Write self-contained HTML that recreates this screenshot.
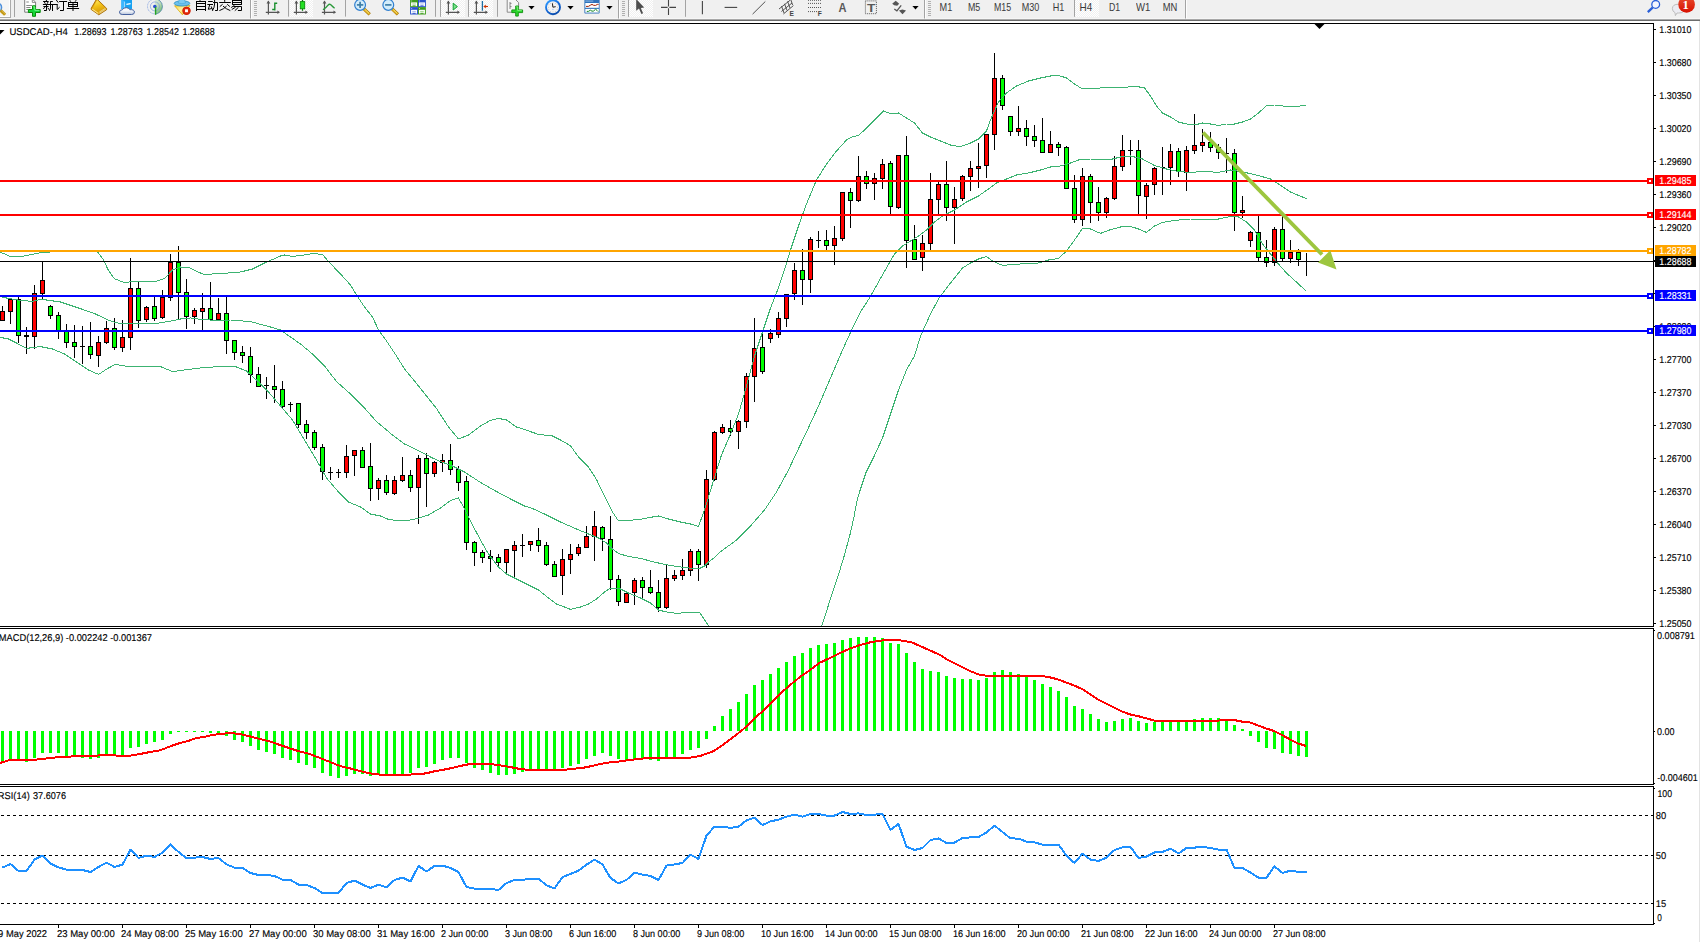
<!DOCTYPE html>
<html><head><meta charset="utf-8"><title>USDCAD H4</title>
<style>html,body{margin:0;padding:0;background:#fff;overflow:hidden}svg{display:block}</style></head>
<body>
<svg width="1700" height="942" viewBox="0 0 1700 942" font-family="Liberation Sans, sans-serif" shape-rendering="crispEdges">
<defs>
<clipPath id="cm"><rect x="0" y="24" width="1653" height="602"/></clipPath>
<clipPath id="cd"><rect x="0" y="629" width="1653" height="155"/></clipPath>
<clipPath id="cr"><rect x="0" y="787" width="1653" height="137"/></clipPath>
<clipPath id="ct"><rect x="0" y="0" width="1700" height="19"/></clipPath>
<pattern id="hatch" width="2" height="2" patternUnits="userSpaceOnUse"><rect width="2" height="2" fill="#f0f0f0"/><rect width="1" height="1" fill="#fff"/><rect x="1" y="1" width="1" height="1" fill="#fff"/></pattern>
<linearGradient id="gold" x1="0" y1="0" x2="1" y2="1"><stop offset="0" stop-color="#ffe070"/><stop offset="0.5" stop-color="#e8b020"/><stop offset="1" stop-color="#b07000"/></linearGradient>
<linearGradient id="redg" x1="0" y1="0" x2="0" y2="1"><stop offset="0" stop-color="#e85030"/><stop offset="1" stop-color="#d81000"/></linearGradient>
<linearGradient id="gold2" x1="0.3" y1="0" x2="0.6" y2="1"><stop offset="0" stop-color="#ffe860"/><stop offset="0.45" stop-color="#f2c21a"/><stop offset="1" stop-color="#d89a08"/></linearGradient>
<linearGradient id="cloudg" x1="0" y1="0" x2="0" y2="1"><stop offset="0" stop-color="#ffffff"/><stop offset="0.5" stop-color="#f2f5fa"/><stop offset="1" stop-color="#b8c4da"/></linearGradient>
<linearGradient id="siggreen" x1="0" y1="0" x2="0.6" y2="1"><stop offset="0" stop-color="#e4efe0"/><stop offset="0.5" stop-color="#bfdcbc"/><stop offset="1" stop-color="#6fbb6f"/></linearGradient>
<linearGradient id="funnel" x1="0" y1="0" x2="1" y2="0.6"><stop offset="0" stop-color="#f6d648"/><stop offset="0.5" stop-color="#fff0a0"/><stop offset="1" stop-color="#f0c020"/></linearGradient>
<linearGradient id="clockg" x1="0.2" y1="0" x2="0.8" y2="1"><stop offset="0" stop-color="#2f9aff"/><stop offset="0.5" stop-color="#1266d6"/><stop offset="1" stop-color="#0a49a6"/></linearGradient>
</defs>
<rect width="1700" height="942" fill="#fff"/>
<!--TOOLBAR-->
<rect x="0" y="0" width="1700" height="18" fill="#f0f0f0"/>
<rect x="0" y="18" width="1700" height="1" fill="#f6f6f6"/>
<rect x="0" y="19" width="1700" height="1" fill="#a8a8a8"/>
<rect x="0" y="20" width="1700" height="1" fill="#6c6c6c"/>
<g clip-path="url(#ct)" shape-rendering="auto">
<rect x="0" y="0" width="10" height="17" fill="#f5f5f5"/>
<rect x="10" y="0" width="1" height="18" fill="#ababab"/><rect x="0" y="17" width="11" height="1" fill="#ababab"/>
<rect x="9" y="0" width="1" height="17" fill="#fdfdfd"/><rect x="0" y="16" width="10" height="1" fill="#fdfdfd"/>
<ellipse cx="-2.6" cy="7.4" rx="4.2" ry="4.3" fill="#cfe2f2" stroke="#4d8fdc" stroke-width="1.4"/>
<line x1="0.6" y1="10.4" x2="5.1" y2="14.8" stroke="#c49a16" stroke-width="3"/>
<line x1="1.6" y1="10.6" x2="5.6" y2="14.4" stroke="#dcb84a" stroke-width="0.8"/>
<rect x="14" y="0" width="1" height="17" fill="#a3a3a3"/>
<path d="M24.7 -1H32.3L35.6 2.2V12.2H24.7Z" fill="#fff" stroke="#7d7d7d" stroke-width="1"/>
<path d="M32.3 -1V2.4H35.6" fill="none" stroke="#7d7d7d" stroke-width="0.9"/>
<path d="M26.3 2H28.8M26.3 5.5H32M26.3 7.5H30.6M26.3 9.5H28" stroke="#7a7a7a" stroke-width="0.9"/>
<path d="M32.5 5.8H35.5V9.5H40.2V12.5H35.5V16.3H32.5V12.5H28.4V9.5H32.5Z" fill="#16d63a" stroke="#078a07" stroke-width="1"/>
<path d="M33.2 6.8H34.8V10.3H39.4" stroke="#7dff96" stroke-width="0.9" fill="none"/>
<g stroke="#000" stroke-width="1" fill="none" stroke-linecap="butt">
<path d="M43.1 1.5H48.7M46.4 -1V1M44.4 2L45.3 3.8M48 2L47.1 3.8M42.9 4.5H57.7M43.4 6.5H48.6M46.5 4.5V10.5H44M45.2 7.2L43.2 8.7M47.8 7.8L49.4 9.9"/>
<path d="M50.3 1.5H52.8M50.5 1.5V8Q50.4 9.8 49.3 10.8M52.5 4.5V11"/>
<path d="M56.2 -0.2L58.2 2.6M57.2 4.5V9.5L59.6 7.2M59.1 1.5H67.1M63.5 1.5V10.5H60"/>
<path d="M69.2 -0.2L71.2 1.8M76.7 -0.2L74.7 1.8M68.5 2V7M77.5 2V7M68.5 2.5H77.5M68.5 4.5H77.5M68.5 6.5H77.5M73 2.5V11M66.9 8.5H79.1"/>
</g>
<path d="M96.6 -1L98.9 0.9L106.6 8.4V9.7L98.8 14.8L91 9.3L91.3 8.1Z" fill="#e0a412" stroke="#a66a00" stroke-width="0.9" stroke-linejoin="round"/>
<path d="M97.2 0L105 7.7L97.7 12.3L92.6 8.2Z" fill="url(#gold2)"/>
<path d="M92 8.9L98.3 13.4" stroke="#ffe98a" stroke-width="1.1" fill="none"/>
<path d="M99.6 13.2L105.8 9.2M99.2 12.2L105.4 8.3" stroke="#efe3b0" stroke-width="0.7" fill="none"/>
<path d="M121.4 -1H132V9H121.4Z" fill="#17a2f2"/>
<path d="M121.4 -1L124.6 1.6V9H121.4Z" fill="#3cb6ff"/>
<path d="M124.6 1.6V9" stroke="#d8f0ff" stroke-width="0.7"/>
<path d="M126.4 4.4L130.6 3.6" stroke="#fff" stroke-width="1.3"/>
<path d="M122.2 14.5Q119.4 14.5 119.5 12Q119.7 9.9 122.3 9.8Q123.6 7.4 126.6 7.7Q128.9 7.9 129.8 9.7Q134.4 9.3 134.4 12.1Q134.4 14.5 131.6 14.5Z" fill="url(#cloudg)" stroke="#45619f" stroke-width="1"/>
<path d="M154.9 -1.2A7.6 7.6 0 0 1 154.9 14Z" fill="url(#siggreen)"/>
<circle cx="154.9" cy="6.4" r="7.4" fill="none" stroke="#6f93dc" stroke-width="0.9" stroke-opacity="0.65" stroke-dasharray="2.2 0.8"/>
<path d="M154.9 14A7.5 7.5 0 0 0 154.9 -1.1" fill="none" stroke="#3f7f8f" stroke-width="0.9" stroke-opacity="0.55"/>
<circle cx="154.9" cy="6.4" r="4.5" fill="none" stroke="#6f93dc" stroke-width="0.9" stroke-opacity="0.7"/>
<circle cx="154.8" cy="6.5" r="1.8" fill="#2a52d0"/>
<path d="M155.6 7.1V14.8" stroke="#22a322" stroke-width="1.4"/>
<path d="M174.6 5.8L182.4 14.8L190 5.6Z" fill="url(#funnel)" stroke="#d9a900" stroke-width="0.8" stroke-linejoin="round"/>
<ellipse cx="182" cy="3.4" rx="7.8" ry="2.6" fill="#6cc0ee" stroke="#2b8fc2" stroke-width="0.8"/>
<path d="M178.2 3Q179.6 -3 182 -3Q184.2 -3 185.6 3Q182 4.4 178.2 3Z" fill="#7ccaf2" stroke="#3c9ed0" stroke-width="0.5"/>
<circle cx="186.5" cy="10.8" r="4.15" fill="#e32a0c"/>
<circle cx="186.5" cy="10.8" r="3.7" fill="none" stroke="#c01c00" stroke-width="0.8" stroke-opacity="0.6"/>
<rect x="185.05" y="9.3" width="2.9" height="2.9" fill="#fff"/>
<g stroke="#000" stroke-width="1" fill="none">
<path d="M200.8 -1L199.8 0.9M196.5 1V11M205.5 1V11M196.5 1.5H205.5M196.5 3.5H205.5M196.5 6.5H205.5M196.5 9.5H205.5"/>
<path d="M208.1 1.5H212.8M207.3 4.5H213M209.7 4.8L208.3 9.3L211.8 8.5M211.2 6.4L212.8 10.4M213.1 2.5H217.5V10.5H215.1M214.6 -1V4Q214.4 8 212.3 10.8"/>
<path d="M224.7 -1V1.8M219.2 2.5H230.8M222.6 4.3L219.8 6.6M227.2 4.3L229.9 6.6M226.6 6.1Q224 9 219.4 10.6M223 6.1Q226 9 230.3 10.6"/>
<path d="M232.5 0V4.9M241.5 0V4.9M232.5 0.5H241.5M232.5 2.5H241.5M232.5 4.5H241.5M234.5 5.2L231.2 7.6M233.3 6.5H241.5V10.5H237.9M235.6 7.2L231.8 9.5M238.5 7.2L234.8 10.7"/>
</g>
<rect x="250" y="0" width="1" height="18.5" fill="#a3a3a3"/>
<rect x="251" y="0" width="1" height="18.5" fill="#fdfdfd"/>
<rect x="254" y="1" width="3" height="1" fill="#b0b0b0"/>
<rect x="254" y="3" width="3" height="1" fill="#b0b0b0"/>
<rect x="254" y="5" width="3" height="1" fill="#b0b0b0"/>
<rect x="254" y="7" width="3" height="1" fill="#b0b0b0"/>
<rect x="254" y="9" width="3" height="1" fill="#b0b0b0"/>
<rect x="254" y="11" width="3" height="1" fill="#b0b0b0"/>
<rect x="254" y="13" width="3" height="1" fill="#b0b0b0"/>
<rect x="254" y="15" width="3" height="1" fill="#b0b0b0"/>
<g stroke="#555555" stroke-width="1.2" fill="none"><path d="M268.4 1.2V14.6M265.79999999999995 12.3H278.9"/></g>
<polygon points="268.4,0.6 266.5,3.4 270.29999999999995,3.4" fill="#555555"/>
<polygon points="280.0,12.3 277.4,10.5 277.4,14.1" fill="#555555"/>
<path d="M274.8 2.4V10.4M274.8 3.2H277.2M272.2 9.5H274.8" stroke="#1a8f2f" stroke-width="1.4" fill="none"/>
<rect x="288" y="0" width="1" height="16.6" fill="#a3a3a3"/>
<rect x="290" y="0" width="23" height="17" fill="url(#hatch)"/>
<g stroke="#555555" stroke-width="1.2" fill="none"><path d="M296.4 1.2V14.6M293.79999999999995 12.3H306.9"/></g>
<polygon points="296.4,0.6 294.5,3.4 298.29999999999995,3.4" fill="#555555"/>
<polygon points="308.0,12.3 305.4,10.5 305.4,14.1" fill="#555555"/>
<path d="M302.5 -1V10.8" stroke="#0c7a0c" stroke-width="1.2"/>
<rect x="300.3" y="1.6" width="4.4" height="7.2" fill="#22e022" stroke="#0c8a0c" stroke-width="0.9"/>
<g stroke="#555555" stroke-width="1.2" fill="none"><path d="M324.5 1.2V14.6M321.9 12.3H335.0"/></g>
<polygon points="324.5,0.6 322.6,3.4 326.4,3.4" fill="#555555"/>
<polygon points="336.1,12.3 333.5,10.5 333.5,14.1" fill="#555555"/>
<path d="M323 9.8Q326.5 7.5 328 5.2Q329.4 3.6 330.8 4.8Q332.8 6.8 334.6 8.2" stroke="#2a9a3a" stroke-width="1.3" fill="none"/>
<rect x="345" y="0" width="1" height="16.6" fill="#a3a3a3"/>
<line x1="363.90000000000003" y1="8.9" x2="369.70000000000005" y2="14.4" stroke="#a87400" stroke-width="3.2"/>
<line x1="364.20000000000005" y1="9.2" x2="369.40000000000003" y2="14.1" stroke="#e2b422" stroke-width="2"/>
<line x1="365.1" y1="9.6" x2="369.1" y2="13.4" stroke="#fbe88a" stroke-width="0.8"/>
<circle cx="360.1" cy="4.9" r="5.4" fill="#d3ecfa" stroke="#2f7fd0" stroke-width="1.2"/>
<path d="M356.90000000000003 4.9H363.3" stroke="#3f7fa8" stroke-width="1.7"/>
<path d="M360.1 1.7V8.1" stroke="#3f7fa8" stroke-width="1.7"/>
<line x1="392.1" y1="8.9" x2="397.90000000000003" y2="14.4" stroke="#a87400" stroke-width="3.2"/>
<line x1="392.40000000000003" y1="9.2" x2="397.6" y2="14.1" stroke="#e2b422" stroke-width="2"/>
<line x1="393.3" y1="9.6" x2="397.3" y2="13.4" stroke="#fbe88a" stroke-width="0.8"/>
<circle cx="388.3" cy="4.9" r="5.4" fill="#d3ecfa" stroke="#2f7fd0" stroke-width="1.2"/>
<path d="M385.1 4.9H391.5" stroke="#3f7fa8" stroke-width="1.7"/>
<rect x="410.1" y="-0.3" width="7.9" height="7.4" fill="#3f9d1c"/>
<rect x="411.05" y="2.4000000000000004" width="6" height="3.8" fill="#fff"/>
<rect x="412.25" y="3.5" width="3.6" height="1" fill="#9fd88a"/>
<rect x="412.45000000000005" y="5.4" width="3.2" height="1" fill="#3f9d1c"/>
<rect x="411.3" y="0.6000000000000001" width="0.8" height="0.8" fill="#e8f0ff"/>
<rect x="418" y="-0.3" width="7.9" height="7.4" fill="#2a52cc"/>
<rect x="418.95" y="2.4000000000000004" width="6" height="3.8" fill="#fff"/>
<rect x="420.15" y="3.5" width="3.6" height="1" fill="#a9b9ee"/>
<rect x="420.35" y="5.4" width="3.2" height="1" fill="#2a52cc"/>
<rect x="419.2" y="0.6000000000000001" width="0.8" height="0.8" fill="#e8f0ff"/>
<rect x="410.1" y="7.1" width="7.9" height="7.4" fill="#2a52cc"/>
<rect x="411.05" y="9.8" width="6" height="3.8" fill="#fff"/>
<rect x="412.25" y="10.899999999999999" width="3.6" height="1" fill="#a9b9ee"/>
<rect x="412.45000000000005" y="12.8" width="3.2" height="1" fill="#2a52cc"/>
<rect x="411.3" y="8.0" width="0.8" height="0.8" fill="#e8f0ff"/>
<rect x="418" y="7.1" width="7.9" height="7.4" fill="#3f9d1c"/>
<rect x="418.95" y="9.8" width="6" height="3.8" fill="#fff"/>
<rect x="420.15" y="10.899999999999999" width="3.6" height="1" fill="#9fd88a"/>
<rect x="420.35" y="12.8" width="3.2" height="1" fill="#3f9d1c"/>
<rect x="419.2" y="8.0" width="0.8" height="0.8" fill="#e8f0ff"/>
<rect x="435" y="0" width="1" height="16.8" fill="#a3a3a3"/>
<rect x="440" y="0" width="1" height="16.8" fill="#a3a3a3"/>
<rect x="441" y="0" width="24" height="17" fill="url(#hatch)"/>
<g stroke="#555555" stroke-width="1.2" fill="none"><path d="M448.4 1.2V14.6M445.79999999999995 12.3H458.9"/></g>
<polygon points="448.4,0.6 446.5,3.4 450.29999999999995,3.4" fill="#555555"/>
<polygon points="460.0,12.3 457.4,10.5 457.4,14.1" fill="#555555"/>
<polygon points="453.2,3.2 453.2,10 457.4,6.6" fill="#7be08a" stroke="#12a432" stroke-width="1"/>
<rect x="468" y="0" width="1" height="16.8" fill="#a3a3a3"/>
<rect x="469" y="0" width="24" height="17" fill="url(#hatch)"/>
<g stroke="#555555" stroke-width="1.2" fill="none"><path d="M476.4 1.2V14.6M473.79999999999995 12.3H486.9"/></g>
<polygon points="476.4,0.6 474.5,3.4 478.29999999999995,3.4" fill="#555555"/>
<polygon points="488.0,12.3 485.4,10.5 485.4,14.1" fill="#555555"/>
<path d="M482.4 1V10.7" stroke="#1c6ea4" stroke-width="1.3"/>
<path d="M488 6.5H484" stroke="#cc3300" stroke-width="1.1"/><polygon points="483.3,6.5 486.2,4.4 485.4,6.5 486.2,8.6" fill="#cc3300"/>
<rect x="497" y="0" width="1" height="16.8" fill="#a3a3a3"/>
<path d="M507.2 -1H515L518.6 2.6V12.2H507.2Z" fill="#f6f6f6" stroke="#8a8a8a" stroke-width="1"/>
<path d="M510 2V9" stroke="#777" stroke-width="0.9"/><path d="M510 3.4H511.6M510 6.6H511.6" stroke="#777" stroke-width="0.8"/>
<path d="M515.7 6H518.3V9.9H522.6V12.6H518.3V16.1H515.7V12.6H511.8V9.9H515.7Z" fill="#2bd62b" stroke="#0e8f0e" stroke-width="0.9"/>
<path d="M516.3 6.8H517.7V10.6H521.8" stroke="#8dff8d" stroke-width="0.8" fill="none"/>
<polygon points="528.4,6 534.6,6 531.5,9.4" fill="#000"/>
<circle cx="553" cy="7.2" r="7" fill="#f3f3f3" stroke="url(#clockg)" stroke-width="1.9"/>
<circle cx="553.00" cy="2.50" r="0.36" fill="#8a8a8a"/>
<circle cx="555.35" cy="3.13" r="0.36" fill="#8a8a8a"/>
<circle cx="557.07" cy="4.85" r="0.36" fill="#8a8a8a"/>
<circle cx="557.70" cy="7.20" r="0.36" fill="#8a8a8a"/>
<circle cx="557.07" cy="9.55" r="0.36" fill="#8a8a8a"/>
<circle cx="555.35" cy="11.27" r="0.36" fill="#8a8a8a"/>
<circle cx="553.00" cy="11.90" r="0.36" fill="#8a8a8a"/>
<circle cx="550.65" cy="11.27" r="0.36" fill="#8a8a8a"/>
<circle cx="548.93" cy="9.55" r="0.36" fill="#8a8a8a"/>
<circle cx="548.30" cy="7.20" r="0.36" fill="#8a8a8a"/>
<circle cx="548.93" cy="4.85" r="0.36" fill="#8a8a8a"/>
<circle cx="550.65" cy="3.13" r="0.36" fill="#8a8a8a"/>
<path d="M552.4 3.3L552.9 7.2L555.7 6.7" stroke="#1c1c1c" stroke-width="1" fill="none"/>
<path d="M552.3 9.4H553.6" stroke="#5aa0ff" stroke-width="0.6"/>
<polygon points="567.4,6 573.6,6 570.5,9.4" fill="#000"/>
<rect x="584.4" y="-0.5" width="15.2" height="14.1" rx="0.8" fill="#2f72bb"/>
<rect x="585.3" y="0.6" width="8" height="0.9" fill="#9cc4ee"/>
<rect x="585.3" y="3" width="13.5" height="4.8" fill="#fff"/>
<rect x="585.3" y="8.9" width="13.5" height="3.7" fill="#fff"/>
<path d="M586 6.4H588.4L590.4 5.2L592 4.4L593.6 5.3L595.6 5.4L597.4 4.4H598.6" stroke="#a01e00" stroke-width="1" fill="none"/>
<path d="M586.8 11.4H588.4L590.4 10.2L592 11.2L593.6 11L595.6 9.2L597 10.4L598.2 11.6" stroke="#148a24" stroke-width="1" fill="none"/>
<polygon points="606.4,6 612.6,6 609.5,9.4" fill="#000"/>
<rect x="618" y="0" width="1" height="18.5" fill="#a3a3a3"/>
<rect x="619" y="0" width="1" height="18.5" fill="#fdfdfd"/>
<rect x="622" y="1" width="3" height="1" fill="#b0b0b0"/>
<rect x="622" y="3" width="3" height="1" fill="#b0b0b0"/>
<rect x="622" y="5" width="3" height="1" fill="#b0b0b0"/>
<rect x="622" y="7" width="3" height="1" fill="#b0b0b0"/>
<rect x="622" y="9" width="3" height="1" fill="#b0b0b0"/>
<rect x="622" y="11" width="3" height="1" fill="#b0b0b0"/>
<rect x="622" y="13" width="3" height="1" fill="#b0b0b0"/>
<rect x="622" y="15" width="3" height="1" fill="#b0b0b0"/>
<rect x="628" y="0" width="1" height="16.8" fill="#a3a3a3"/>
<rect x="629" y="0" width="24" height="17" fill="url(#hatch)"/>
<polygon points="636.2,-1 636.2,10.8 639,8.5 641.4,14 643.1,13.2 640.8,7.9 644.2,7.6" fill="#4e4e4e"/>
<path d="M661 7.4H667.6M669.4 7.4H676M668.5 -1V6.5M668.5 8.3V15" stroke="#444" stroke-width="1.1"/>
<rect x="685" y="0" width="1" height="16.8" fill="#a3a3a3"/>
<path d="M702.4 1V14.2" stroke="#444" stroke-width="1.1"/>
<path d="M724.6 7.4H737.2" stroke="#444" stroke-width="1.1"/>
<path d="M752.6 14.1L765.3 1.5" stroke="#4a4a4a" stroke-width="0.95"/>
<g stroke="#444" stroke-width="0.9" fill="none"><path d="M779 9L790.4 0M781.4 11.5L792 3M783.4 14L793.4 5.6M781.5 6L784 13M784.5 3.8L787 10.4M787.6 1.4L790 8M790.6 -1L792.6 5"/></g>
<text x="789.4" y="15.7" font-size="6.6" font-weight="bold" fill="#444">E</text>
<line x1="808" y1="0.3" x2="821" y2="0.3" stroke="#555" stroke-width="1" stroke-dasharray="1 1"/>
<line x1="808" y1="3.4" x2="821" y2="3.4" stroke="#555" stroke-width="1" stroke-dasharray="1 1"/>
<line x1="808" y1="7.5" x2="821" y2="7.5" stroke="#555" stroke-width="1" stroke-dasharray="1 1"/>
<line x1="808" y1="11.6" x2="817" y2="11.6" stroke="#555" stroke-width="1" stroke-dasharray="1 1"/>
<text x="817.8" y="15.7" font-size="6.6" font-weight="bold" fill="#444">F</text>
<text x="838.6" y="12" font-size="12.4" font-weight="bold" fill="#585858" textLength="8" lengthAdjust="spacingAndGlyphs">A</text>
<rect x="865.4" y="0.9" width="11" height="12.8" fill="none" stroke="#555" stroke-width="1" stroke-dasharray="1 1"/>
<text x="866.9" y="12" font-size="11" font-weight="bold" fill="#585858" textLength="8.4" lengthAdjust="spacingAndGlyphs">T</text>
<polygon points="895.7,0.7 899.2,3.8 897.2,5.8 894.2,5.2 892.2,3.8" fill="#555"/>
<path d="M894.3 9L896.9 10.8L901.2 5.3" stroke="#555" stroke-width="1.3" fill="none"/>
<polygon points="899,10.6 902.4,9.4 906,10.6 902.5,14.2" fill="#555"/>
<polygon points="912.4,6 918.6,6 915.5,9.4" fill="#000"/>
<rect x="924" y="0" width="1" height="18.5" fill="#a3a3a3"/>
<rect x="925" y="0" width="1" height="18.5" fill="#fdfdfd"/>
<rect x="928" y="1" width="3" height="1" fill="#b0b0b0"/>
<rect x="928" y="3" width="3" height="1" fill="#b0b0b0"/>
<rect x="928" y="5" width="3" height="1" fill="#b0b0b0"/>
<rect x="928" y="7" width="3" height="1" fill="#b0b0b0"/>
<rect x="928" y="9" width="3" height="1" fill="#b0b0b0"/>
<rect x="928" y="11" width="3" height="1" fill="#b0b0b0"/>
<rect x="928" y="13" width="3" height="1" fill="#b0b0b0"/>
<rect x="928" y="15" width="3" height="1" fill="#b0b0b0"/>
<rect x="1075" y="0" width="24" height="17" fill="url(#hatch)"/>
<rect x="1074" y="0" width="1" height="16.8" fill="#a3a3a3"/>
<text x="939.6" y="10.8" font-size="10.5" fill="#3a3a3a" style="opacity:0.999" textLength="12.7" lengthAdjust="spacingAndGlyphs">M1</text>
<text x="967.9" y="10.8" font-size="10.5" fill="#3a3a3a" style="opacity:0.999" textLength="12.3" lengthAdjust="spacingAndGlyphs">M5</text>
<text x="993.9" y="10.8" font-size="10.5" fill="#3a3a3a" style="opacity:0.999" textLength="17.2" lengthAdjust="spacingAndGlyphs">M15</text>
<text x="1021.8" y="10.8" font-size="10.5" fill="#3a3a3a" style="opacity:0.999" textLength="17.6" lengthAdjust="spacingAndGlyphs">M30</text>
<text x="1052.7" y="10.8" font-size="10.5" fill="#3a3a3a" style="opacity:0.999" textLength="11.6" lengthAdjust="spacingAndGlyphs">H1</text>
<text x="1079.5" y="10.8" font-size="10.5" fill="#3a3a3a" style="opacity:0.999" textLength="12.7" lengthAdjust="spacingAndGlyphs">H4</text>
<text x="1108.9" y="10.8" font-size="10.5" fill="#3a3a3a" style="opacity:0.999" textLength="11.2" lengthAdjust="spacingAndGlyphs">D1</text>
<text x="1136" y="10.8" font-size="10.5" fill="#3a3a3a" style="opacity:0.999" textLength="14.3" lengthAdjust="spacingAndGlyphs">W1</text>
<text x="1162.8" y="10.8" font-size="10.5" fill="#3a3a3a" style="opacity:0.999" textLength="14.6" lengthAdjust="spacingAndGlyphs">MN</text>
<rect x="1185" y="0" width="1" height="18.5" fill="#a3a3a3"/>
<rect x="1186" y="0" width="1" height="18.5" fill="#fdfdfd"/>
<circle cx="1655.7" cy="4.4" r="3.9" fill="#f4f6ff" stroke="#2a5fd8" stroke-width="1.3"/>
<line x1="1652.8" y1="7.4" x2="1647.8" y2="12.2" stroke="#2a5fd8" stroke-width="2.3"/>
<path d="M1672.4 8.6Q1672.4 4.2 1678.6 4.2Q1684.6 4.2 1684.6 8.6Q1684.6 13 1678.6 13L1677 13L1675.4 15.6L1675 12.6Q1672.4 11.6 1672.4 8.6Z" fill="#ececf2" stroke="#b8b8b8" stroke-width="0.9"/>
<circle cx="1686.6" cy="4.4" r="8.3" fill="url(#redg)"/>
<text x="1685.7" y="9.1" font-size="12.6" font-weight="bold" font-family="Liberation Serif, serif" fill="#fff" text-anchor="middle">1</text>
</g>
<rect x="1699" y="21" width="1" height="921" fill="#e3e3e3"/>
<g fill="#000">
<rect x="0" y="23" width="1654" height="1"/>
<rect x="1653" y="23" width="1" height="902"/>
<rect x="0" y="626" width="1654" height="1"/>
<rect x="0" y="628" width="1654" height="1"/>
<rect x="0" y="784" width="1654" height="1"/>
<rect x="0" y="786" width="1654" height="1"/>
<rect x="0" y="924" width="1654" height="1"/>
</g>
<polygon points="1314.5,24 1324.5,24 1319.5,29" fill="#000" shape-rendering="auto"/>
<polygon points="-4,30 4.5,30 0,34.5" fill="#000" shape-rendering="auto"/>
<g clip-path="url(#cm)">
<rect x="2" y="306" width="1" height="14" fill="#000"/>
<rect x="0" y="311" width="5" height="10" fill="#000"/>
<rect x="1" y="312" width="3" height="8" fill="#ff0000"/>
<rect x="10" y="298" width="1" height="26" fill="#000"/>
<rect x="8" y="299" width="5" height="13" fill="#000"/>
<rect x="9" y="300" width="3" height="11" fill="#ff0000"/>
<rect x="18" y="297" width="1" height="46" fill="#000"/>
<rect x="16" y="299" width="5" height="37" fill="#000"/>
<rect x="17" y="300" width="3" height="35" fill="#00ff00"/>
<rect x="26" y="327" width="1" height="27" fill="#000"/>
<rect x="24" y="335" width="5" height="2" fill="#000"/>
<rect x="34" y="285" width="1" height="64" fill="#000"/>
<rect x="32" y="293" width="5" height="44" fill="#000"/>
<rect x="33" y="294" width="3" height="42" fill="#ff0000"/>
<rect x="42" y="261" width="1" height="38" fill="#000"/>
<rect x="40" y="280" width="5" height="14" fill="#000"/>
<rect x="41" y="281" width="3" height="12" fill="#ff0000"/>
<rect x="50" y="305" width="1" height="14" fill="#000"/>
<rect x="48" y="306" width="5" height="10" fill="#000"/>
<rect x="49" y="307" width="3" height="8" fill="#00ff00"/>
<rect x="58" y="312" width="1" height="27" fill="#000"/>
<rect x="56" y="315" width="5" height="16" fill="#000"/>
<rect x="57" y="316" width="3" height="14" fill="#00ff00"/>
<rect x="66" y="324" width="1" height="24" fill="#000"/>
<rect x="64" y="331" width="5" height="12" fill="#000"/>
<rect x="65" y="332" width="3" height="10" fill="#00ff00"/>
<rect x="74" y="325" width="1" height="33" fill="#000"/>
<rect x="72" y="342" width="5" height="5" fill="#000"/>
<rect x="73" y="343" width="3" height="3" fill="#00ff00"/>
<rect x="82" y="326" width="1" height="38" fill="#000"/>
<rect x="80" y="346" width="5" height="1" fill="#000"/>
<rect x="90" y="322" width="1" height="37" fill="#000"/>
<rect x="88" y="346" width="5" height="9" fill="#000"/>
<rect x="89" y="347" width="3" height="7" fill="#00ff00"/>
<rect x="98" y="336" width="1" height="31" fill="#000"/>
<rect x="96" y="342" width="5" height="14" fill="#000"/>
<rect x="97" y="343" width="3" height="12" fill="#ff0000"/>
<rect x="106" y="321" width="1" height="23" fill="#000"/>
<rect x="104" y="328" width="5" height="15" fill="#000"/>
<rect x="105" y="329" width="3" height="13" fill="#ff0000"/>
<rect x="114" y="318" width="1" height="32" fill="#000"/>
<rect x="112" y="328" width="5" height="20" fill="#000"/>
<rect x="113" y="329" width="3" height="18" fill="#00ff00"/>
<rect x="122" y="320" width="1" height="32" fill="#000"/>
<rect x="120" y="337" width="5" height="11" fill="#000"/>
<rect x="121" y="338" width="3" height="9" fill="#ff0000"/>
<rect x="130" y="258" width="1" height="92" fill="#000"/>
<rect x="128" y="288" width="5" height="50" fill="#000"/>
<rect x="129" y="289" width="3" height="48" fill="#ff0000"/>
<rect x="138" y="282" width="1" height="46" fill="#000"/>
<rect x="136" y="288" width="5" height="33" fill="#000"/>
<rect x="137" y="289" width="3" height="31" fill="#00ff00"/>
<rect x="146" y="306" width="1" height="16" fill="#000"/>
<rect x="144" y="307" width="5" height="13" fill="#000"/>
<rect x="145" y="308" width="3" height="11" fill="#ff0000"/>
<rect x="154" y="297" width="1" height="24" fill="#000"/>
<rect x="152" y="306" width="5" height="13" fill="#000"/>
<rect x="153" y="307" width="3" height="11" fill="#00ff00"/>
<rect x="162" y="290" width="1" height="29" fill="#000"/>
<rect x="160" y="297" width="5" height="21" fill="#000"/>
<rect x="161" y="298" width="3" height="19" fill="#ff0000"/>
<rect x="170" y="254" width="1" height="47" fill="#000"/>
<rect x="168" y="262" width="5" height="36" fill="#000"/>
<rect x="169" y="263" width="3" height="34" fill="#ff0000"/>
<rect x="178" y="246" width="1" height="73" fill="#000"/>
<rect x="176" y="262" width="5" height="31" fill="#000"/>
<rect x="177" y="263" width="3" height="29" fill="#00ff00"/>
<rect x="186" y="279" width="1" height="50" fill="#000"/>
<rect x="184" y="292" width="5" height="25" fill="#000"/>
<rect x="185" y="293" width="3" height="23" fill="#00ff00"/>
<rect x="194" y="308" width="1" height="16" fill="#000"/>
<rect x="192" y="310" width="5" height="7" fill="#000"/>
<rect x="193" y="311" width="3" height="5" fill="#ff0000"/>
<rect x="202" y="293" width="1" height="37" fill="#000"/>
<rect x="200" y="308" width="5" height="4" fill="#000"/>
<rect x="201" y="309" width="3" height="2" fill="#ff0000"/>
<rect x="210" y="282" width="1" height="38" fill="#000"/>
<rect x="208" y="308" width="5" height="12" fill="#000"/>
<rect x="209" y="309" width="3" height="10" fill="#00ff00"/>
<rect x="218" y="298" width="1" height="22" fill="#000"/>
<rect x="216" y="313" width="5" height="7" fill="#000"/>
<rect x="217" y="314" width="3" height="5" fill="#ff0000"/>
<rect x="226" y="297" width="1" height="57" fill="#000"/>
<rect x="224" y="313" width="5" height="28" fill="#000"/>
<rect x="225" y="314" width="3" height="26" fill="#00ff00"/>
<rect x="234" y="340" width="1" height="20" fill="#000"/>
<rect x="232" y="340" width="5" height="13" fill="#000"/>
<rect x="233" y="341" width="3" height="11" fill="#00ff00"/>
<rect x="242" y="346" width="1" height="17" fill="#000"/>
<rect x="240" y="352" width="5" height="4" fill="#000"/>
<rect x="241" y="353" width="3" height="2" fill="#00ff00"/>
<rect x="250" y="347" width="1" height="36" fill="#000"/>
<rect x="248" y="356" width="5" height="19" fill="#000"/>
<rect x="249" y="357" width="3" height="17" fill="#00ff00"/>
<rect x="258" y="367" width="1" height="20" fill="#000"/>
<rect x="256" y="374" width="5" height="13" fill="#000"/>
<rect x="257" y="375" width="3" height="11" fill="#00ff00"/>
<rect x="266" y="377" width="1" height="22" fill="#000"/>
<rect x="264" y="385" width="5" height="1" fill="#000"/>
<rect x="274" y="365" width="1" height="38" fill="#000"/>
<rect x="272" y="386" width="5" height="4" fill="#000"/>
<rect x="273" y="387" width="3" height="2" fill="#00ff00"/>
<rect x="282" y="381" width="1" height="27" fill="#000"/>
<rect x="280" y="389" width="5" height="18" fill="#000"/>
<rect x="281" y="390" width="3" height="16" fill="#00ff00"/>
<rect x="290" y="402" width="1" height="10" fill="#000"/>
<rect x="288" y="404" width="5" height="1" fill="#000"/>
<rect x="298" y="403" width="1" height="25" fill="#000"/>
<rect x="296" y="403" width="5" height="22" fill="#000"/>
<rect x="297" y="404" width="3" height="20" fill="#00ff00"/>
<rect x="306" y="420" width="1" height="19" fill="#000"/>
<rect x="304" y="424" width="5" height="9" fill="#000"/>
<rect x="305" y="425" width="3" height="7" fill="#00ff00"/>
<rect x="314" y="430" width="1" height="20" fill="#000"/>
<rect x="312" y="432" width="5" height="16" fill="#000"/>
<rect x="313" y="433" width="3" height="14" fill="#00ff00"/>
<rect x="322" y="444" width="1" height="36" fill="#000"/>
<rect x="320" y="447" width="5" height="25" fill="#000"/>
<rect x="321" y="448" width="3" height="23" fill="#00ff00"/>
<rect x="330" y="467" width="1" height="13" fill="#000"/>
<rect x="328" y="472" width="5" height="1" fill="#000"/>
<rect x="338" y="469" width="1" height="9" fill="#000"/>
<rect x="336" y="472" width="5" height="1" fill="#000"/>
<rect x="346" y="445" width="1" height="33" fill="#000"/>
<rect x="344" y="456" width="5" height="17" fill="#000"/>
<rect x="345" y="457" width="3" height="15" fill="#ff0000"/>
<rect x="354" y="450" width="1" height="26" fill="#000"/>
<rect x="352" y="450" width="5" height="6" fill="#000"/>
<rect x="353" y="451" width="3" height="4" fill="#ff0000"/>
<rect x="362" y="447" width="1" height="20" fill="#000"/>
<rect x="360" y="450" width="5" height="18" fill="#000"/>
<rect x="361" y="451" width="3" height="16" fill="#00ff00"/>
<rect x="370" y="443" width="1" height="58" fill="#000"/>
<rect x="368" y="466" width="5" height="23" fill="#000"/>
<rect x="369" y="467" width="3" height="21" fill="#00ff00"/>
<rect x="378" y="478" width="1" height="22" fill="#000"/>
<rect x="376" y="480" width="5" height="9" fill="#000"/>
<rect x="377" y="481" width="3" height="7" fill="#ff0000"/>
<rect x="386" y="475" width="1" height="20" fill="#000"/>
<rect x="384" y="480" width="5" height="13" fill="#000"/>
<rect x="385" y="481" width="3" height="11" fill="#00ff00"/>
<rect x="394" y="476" width="1" height="19" fill="#000"/>
<rect x="392" y="480" width="5" height="14" fill="#000"/>
<rect x="393" y="481" width="3" height="12" fill="#ff0000"/>
<rect x="402" y="457" width="1" height="25" fill="#000"/>
<rect x="400" y="475" width="5" height="6" fill="#000"/>
<rect x="401" y="476" width="3" height="4" fill="#ff0000"/>
<rect x="410" y="470" width="1" height="22" fill="#000"/>
<rect x="408" y="475" width="5" height="13" fill="#000"/>
<rect x="409" y="476" width="3" height="11" fill="#00ff00"/>
<rect x="418" y="455" width="1" height="69" fill="#000"/>
<rect x="416" y="458" width="5" height="30" fill="#000"/>
<rect x="417" y="459" width="3" height="28" fill="#ff0000"/>
<rect x="426" y="453" width="1" height="54" fill="#000"/>
<rect x="424" y="458" width="5" height="16" fill="#000"/>
<rect x="425" y="459" width="3" height="14" fill="#00ff00"/>
<rect x="434" y="461" width="1" height="16" fill="#000"/>
<rect x="432" y="462" width="5" height="12" fill="#000"/>
<rect x="433" y="463" width="3" height="10" fill="#ff0000"/>
<rect x="442" y="454" width="1" height="18" fill="#000"/>
<rect x="440" y="460" width="5" height="3" fill="#000"/>
<rect x="441" y="461" width="3" height="1" fill="#ff0000"/>
<rect x="450" y="444" width="1" height="31" fill="#000"/>
<rect x="448" y="460" width="5" height="10" fill="#000"/>
<rect x="449" y="461" width="3" height="8" fill="#00ff00"/>
<rect x="458" y="466" width="1" height="25" fill="#000"/>
<rect x="456" y="469" width="5" height="14" fill="#000"/>
<rect x="457" y="470" width="3" height="12" fill="#00ff00"/>
<rect x="466" y="476" width="1" height="74" fill="#000"/>
<rect x="464" y="481" width="5" height="62" fill="#000"/>
<rect x="465" y="482" width="3" height="60" fill="#00ff00"/>
<rect x="474" y="541" width="1" height="25" fill="#000"/>
<rect x="472" y="542" width="5" height="11" fill="#000"/>
<rect x="473" y="543" width="3" height="9" fill="#00ff00"/>
<rect x="482" y="550" width="1" height="13" fill="#000"/>
<rect x="480" y="552" width="5" height="6" fill="#000"/>
<rect x="481" y="553" width="3" height="4" fill="#00ff00"/>
<rect x="490" y="550" width="1" height="22" fill="#000"/>
<rect x="488" y="556" width="5" height="3" fill="#000"/>
<rect x="489" y="557" width="3" height="1" fill="#00ff00"/>
<rect x="498" y="554" width="1" height="13" fill="#000"/>
<rect x="496" y="557" width="5" height="6" fill="#000"/>
<rect x="497" y="558" width="3" height="4" fill="#00ff00"/>
<rect x="506" y="549" width="1" height="25" fill="#000"/>
<rect x="504" y="549" width="5" height="14" fill="#000"/>
<rect x="505" y="550" width="3" height="12" fill="#ff0000"/>
<rect x="514" y="541" width="1" height="37" fill="#000"/>
<rect x="512" y="545" width="5" height="6" fill="#000"/>
<rect x="513" y="546" width="3" height="4" fill="#ff0000"/>
<rect x="522" y="534" width="1" height="23" fill="#000"/>
<rect x="520" y="545" width="5" height="1" fill="#000"/>
<rect x="530" y="541" width="1" height="10" fill="#000"/>
<rect x="528" y="541" width="5" height="4" fill="#000"/>
<rect x="529" y="542" width="3" height="2" fill="#ff0000"/>
<rect x="538" y="528" width="1" height="24" fill="#000"/>
<rect x="536" y="540" width="5" height="6" fill="#000"/>
<rect x="537" y="541" width="3" height="4" fill="#00ff00"/>
<rect x="546" y="542" width="1" height="24" fill="#000"/>
<rect x="544" y="545" width="5" height="20" fill="#000"/>
<rect x="545" y="546" width="3" height="18" fill="#00ff00"/>
<rect x="554" y="561" width="1" height="15" fill="#000"/>
<rect x="552" y="564" width="5" height="13" fill="#000"/>
<rect x="553" y="565" width="3" height="11" fill="#00ff00"/>
<rect x="562" y="549" width="1" height="46" fill="#000"/>
<rect x="560" y="559" width="5" height="17" fill="#000"/>
<rect x="561" y="560" width="3" height="15" fill="#ff0000"/>
<rect x="570" y="544" width="1" height="30" fill="#000"/>
<rect x="568" y="554" width="5" height="6" fill="#000"/>
<rect x="569" y="555" width="3" height="4" fill="#ff0000"/>
<rect x="578" y="544" width="1" height="12" fill="#000"/>
<rect x="576" y="547" width="5" height="7" fill="#000"/>
<rect x="577" y="548" width="3" height="5" fill="#ff0000"/>
<rect x="586" y="526" width="1" height="21" fill="#000"/>
<rect x="584" y="536" width="5" height="12" fill="#000"/>
<rect x="585" y="537" width="3" height="10" fill="#ff0000"/>
<rect x="594" y="511" width="1" height="50" fill="#000"/>
<rect x="592" y="526" width="5" height="11" fill="#000"/>
<rect x="593" y="527" width="3" height="9" fill="#ff0000"/>
<rect x="602" y="526" width="1" height="25" fill="#000"/>
<rect x="600" y="527" width="5" height="12" fill="#000"/>
<rect x="601" y="528" width="3" height="10" fill="#00ff00"/>
<rect x="610" y="516" width="1" height="74" fill="#000"/>
<rect x="608" y="539" width="5" height="41" fill="#000"/>
<rect x="609" y="540" width="3" height="39" fill="#00ff00"/>
<rect x="618" y="575" width="1" height="31" fill="#000"/>
<rect x="616" y="579" width="5" height="23" fill="#000"/>
<rect x="617" y="580" width="3" height="21" fill="#00ff00"/>
<rect x="626" y="591" width="1" height="11" fill="#000"/>
<rect x="624" y="593" width="5" height="10" fill="#000"/>
<rect x="625" y="594" width="3" height="8" fill="#ff0000"/>
<rect x="634" y="578" width="1" height="27" fill="#000"/>
<rect x="632" y="580" width="5" height="13" fill="#000"/>
<rect x="633" y="581" width="3" height="11" fill="#ff0000"/>
<rect x="642" y="577" width="1" height="21" fill="#000"/>
<rect x="640" y="580" width="5" height="8" fill="#000"/>
<rect x="641" y="581" width="3" height="6" fill="#00ff00"/>
<rect x="650" y="570" width="1" height="24" fill="#000"/>
<rect x="648" y="587" width="5" height="6" fill="#000"/>
<rect x="649" y="588" width="3" height="4" fill="#00ff00"/>
<rect x="658" y="580" width="1" height="32" fill="#000"/>
<rect x="656" y="592" width="5" height="16" fill="#000"/>
<rect x="657" y="593" width="3" height="14" fill="#00ff00"/>
<rect x="666" y="564" width="1" height="45" fill="#000"/>
<rect x="664" y="578" width="5" height="30" fill="#000"/>
<rect x="665" y="579" width="3" height="28" fill="#ff0000"/>
<rect x="674" y="570" width="1" height="11" fill="#000"/>
<rect x="672" y="575" width="5" height="4" fill="#000"/>
<rect x="673" y="576" width="3" height="2" fill="#ff0000"/>
<rect x="682" y="559" width="1" height="21" fill="#000"/>
<rect x="680" y="570" width="5" height="6" fill="#000"/>
<rect x="681" y="571" width="3" height="4" fill="#ff0000"/>
<rect x="690" y="549" width="1" height="27" fill="#000"/>
<rect x="688" y="551" width="5" height="20" fill="#000"/>
<rect x="689" y="552" width="3" height="18" fill="#ff0000"/>
<rect x="698" y="549" width="1" height="32" fill="#000"/>
<rect x="696" y="551" width="5" height="14" fill="#000"/>
<rect x="697" y="552" width="3" height="12" fill="#00ff00"/>
<rect x="706" y="470" width="1" height="98" fill="#000"/>
<rect x="704" y="479" width="5" height="86" fill="#000"/>
<rect x="705" y="480" width="3" height="84" fill="#ff0000"/>
<rect x="714" y="431" width="1" height="50" fill="#000"/>
<rect x="712" y="432" width="5" height="48" fill="#000"/>
<rect x="713" y="433" width="3" height="46" fill="#ff0000"/>
<rect x="722" y="424" width="1" height="10" fill="#000"/>
<rect x="720" y="427" width="5" height="6" fill="#000"/>
<rect x="721" y="428" width="3" height="4" fill="#ff0000"/>
<rect x="730" y="420" width="1" height="16" fill="#000"/>
<rect x="728" y="428" width="5" height="4" fill="#000"/>
<rect x="729" y="429" width="3" height="2" fill="#00ff00"/>
<rect x="738" y="420" width="1" height="29" fill="#000"/>
<rect x="736" y="421" width="5" height="11" fill="#000"/>
<rect x="737" y="422" width="3" height="9" fill="#ff0000"/>
<rect x="746" y="373" width="1" height="55" fill="#000"/>
<rect x="744" y="376" width="5" height="46" fill="#000"/>
<rect x="745" y="377" width="3" height="44" fill="#ff0000"/>
<rect x="754" y="318" width="1" height="84" fill="#000"/>
<rect x="752" y="348" width="5" height="29" fill="#000"/>
<rect x="753" y="349" width="3" height="27" fill="#ff0000"/>
<rect x="762" y="332" width="1" height="42" fill="#000"/>
<rect x="760" y="347" width="5" height="25" fill="#000"/>
<rect x="761" y="348" width="3" height="23" fill="#00ff00"/>
<rect x="770" y="329" width="1" height="14" fill="#000"/>
<rect x="768" y="333" width="5" height="6" fill="#000"/>
<rect x="769" y="334" width="3" height="4" fill="#ff0000"/>
<rect x="778" y="312" width="1" height="26" fill="#000"/>
<rect x="776" y="318" width="5" height="17" fill="#000"/>
<rect x="777" y="319" width="3" height="15" fill="#ff0000"/>
<rect x="786" y="294" width="1" height="33" fill="#000"/>
<rect x="784" y="294" width="5" height="25" fill="#000"/>
<rect x="785" y="295" width="3" height="23" fill="#ff0000"/>
<rect x="794" y="263" width="1" height="37" fill="#000"/>
<rect x="792" y="270" width="5" height="24" fill="#000"/>
<rect x="793" y="271" width="3" height="22" fill="#ff0000"/>
<rect x="802" y="249" width="1" height="56" fill="#000"/>
<rect x="800" y="270" width="5" height="10" fill="#000"/>
<rect x="801" y="271" width="3" height="8" fill="#00ff00"/>
<rect x="810" y="237" width="1" height="56" fill="#000"/>
<rect x="808" y="239" width="5" height="41" fill="#000"/>
<rect x="809" y="240" width="3" height="39" fill="#ff0000"/>
<rect x="818" y="231" width="1" height="17" fill="#000"/>
<rect x="816" y="240" width="5" height="1" fill="#000"/>
<rect x="826" y="230" width="1" height="20" fill="#000"/>
<rect x="824" y="240" width="5" height="6" fill="#000"/>
<rect x="825" y="241" width="3" height="4" fill="#00ff00"/>
<rect x="834" y="226" width="1" height="39" fill="#000"/>
<rect x="832" y="238" width="5" height="8" fill="#000"/>
<rect x="833" y="239" width="3" height="6" fill="#ff0000"/>
<rect x="842" y="192" width="1" height="49" fill="#000"/>
<rect x="840" y="192" width="5" height="47" fill="#000"/>
<rect x="841" y="193" width="3" height="45" fill="#ff0000"/>
<rect x="850" y="188" width="1" height="40" fill="#000"/>
<rect x="848" y="192" width="5" height="9" fill="#000"/>
<rect x="849" y="193" width="3" height="7" fill="#00ff00"/>
<rect x="858" y="156" width="1" height="46" fill="#000"/>
<rect x="856" y="176" width="5" height="25" fill="#000"/>
<rect x="857" y="177" width="3" height="23" fill="#ff0000"/>
<rect x="866" y="171" width="1" height="18" fill="#000"/>
<rect x="864" y="176" width="5" height="8" fill="#000"/>
<rect x="865" y="177" width="3" height="6" fill="#00ff00"/>
<rect x="874" y="173" width="1" height="27" fill="#000"/>
<rect x="872" y="178" width="5" height="6" fill="#000"/>
<rect x="873" y="179" width="3" height="4" fill="#ff0000"/>
<rect x="882" y="159" width="1" height="30" fill="#000"/>
<rect x="880" y="164" width="5" height="15" fill="#000"/>
<rect x="881" y="165" width="3" height="13" fill="#ff0000"/>
<rect x="890" y="161" width="1" height="53" fill="#000"/>
<rect x="888" y="163" width="5" height="44" fill="#000"/>
<rect x="889" y="164" width="3" height="42" fill="#00ff00"/>
<rect x="898" y="155" width="1" height="54" fill="#000"/>
<rect x="896" y="155" width="5" height="53" fill="#000"/>
<rect x="897" y="156" width="3" height="51" fill="#ff0000"/>
<rect x="906" y="136" width="1" height="132" fill="#000"/>
<rect x="904" y="155" width="5" height="86" fill="#000"/>
<rect x="905" y="156" width="3" height="84" fill="#00ff00"/>
<rect x="914" y="225" width="1" height="34" fill="#000"/>
<rect x="912" y="239" width="5" height="21" fill="#000"/>
<rect x="913" y="240" width="3" height="19" fill="#00ff00"/>
<rect x="922" y="235" width="1" height="36" fill="#000"/>
<rect x="920" y="243" width="5" height="15" fill="#000"/>
<rect x="921" y="244" width="3" height="13" fill="#ff0000"/>
<rect x="930" y="173" width="1" height="77" fill="#000"/>
<rect x="928" y="199" width="5" height="45" fill="#000"/>
<rect x="929" y="200" width="3" height="43" fill="#ff0000"/>
<rect x="938" y="182" width="1" height="32" fill="#000"/>
<rect x="936" y="184" width="5" height="16" fill="#000"/>
<rect x="937" y="185" width="3" height="14" fill="#ff0000"/>
<rect x="946" y="161" width="1" height="60" fill="#000"/>
<rect x="944" y="184" width="5" height="24" fill="#000"/>
<rect x="945" y="185" width="3" height="22" fill="#00ff00"/>
<rect x="954" y="187" width="1" height="57" fill="#000"/>
<rect x="952" y="199" width="5" height="9" fill="#000"/>
<rect x="953" y="200" width="3" height="7" fill="#ff0000"/>
<rect x="962" y="175" width="1" height="26" fill="#000"/>
<rect x="960" y="176" width="5" height="23" fill="#000"/>
<rect x="961" y="177" width="3" height="21" fill="#ff0000"/>
<rect x="970" y="161" width="1" height="30" fill="#000"/>
<rect x="968" y="168" width="5" height="9" fill="#000"/>
<rect x="969" y="169" width="3" height="7" fill="#ff0000"/>
<rect x="978" y="143" width="1" height="45" fill="#000"/>
<rect x="976" y="166" width="5" height="3" fill="#000"/>
<rect x="977" y="167" width="3" height="1" fill="#ff0000"/>
<rect x="986" y="134" width="1" height="44" fill="#000"/>
<rect x="984" y="134" width="5" height="32" fill="#000"/>
<rect x="985" y="135" width="3" height="30" fill="#ff0000"/>
<rect x="994" y="53" width="1" height="97" fill="#000"/>
<rect x="992" y="78" width="5" height="57" fill="#000"/>
<rect x="993" y="79" width="3" height="55" fill="#ff0000"/>
<rect x="1002" y="75" width="1" height="35" fill="#000"/>
<rect x="1000" y="78" width="5" height="28" fill="#000"/>
<rect x="1001" y="79" width="3" height="26" fill="#00ff00"/>
<rect x="1010" y="116" width="1" height="20" fill="#000"/>
<rect x="1008" y="116" width="5" height="16" fill="#000"/>
<rect x="1009" y="117" width="3" height="14" fill="#00ff00"/>
<rect x="1018" y="106" width="1" height="30" fill="#000"/>
<rect x="1016" y="128" width="5" height="4" fill="#000"/>
<rect x="1017" y="129" width="3" height="2" fill="#ff0000"/>
<rect x="1026" y="120" width="1" height="26" fill="#000"/>
<rect x="1024" y="128" width="5" height="9" fill="#000"/>
<rect x="1025" y="129" width="3" height="7" fill="#00ff00"/>
<rect x="1034" y="125" width="1" height="22" fill="#000"/>
<rect x="1032" y="136" width="5" height="5" fill="#000"/>
<rect x="1033" y="137" width="3" height="3" fill="#00ff00"/>
<rect x="1042" y="118" width="1" height="34" fill="#000"/>
<rect x="1040" y="140" width="5" height="13" fill="#000"/>
<rect x="1041" y="141" width="3" height="11" fill="#00ff00"/>
<rect x="1050" y="131" width="1" height="21" fill="#000"/>
<rect x="1048" y="144" width="5" height="9" fill="#000"/>
<rect x="1049" y="145" width="3" height="7" fill="#ff0000"/>
<rect x="1058" y="142" width="1" height="14" fill="#000"/>
<rect x="1056" y="144" width="5" height="4" fill="#000"/>
<rect x="1057" y="145" width="3" height="2" fill="#00ff00"/>
<rect x="1066" y="146" width="1" height="42" fill="#000"/>
<rect x="1064" y="147" width="5" height="42" fill="#000"/>
<rect x="1065" y="148" width="3" height="40" fill="#00ff00"/>
<rect x="1074" y="175" width="1" height="48" fill="#000"/>
<rect x="1072" y="188" width="5" height="32" fill="#000"/>
<rect x="1073" y="189" width="3" height="30" fill="#00ff00"/>
<rect x="1082" y="168" width="1" height="58" fill="#000"/>
<rect x="1080" y="176" width="5" height="44" fill="#000"/>
<rect x="1081" y="177" width="3" height="42" fill="#ff0000"/>
<rect x="1090" y="174" width="1" height="49" fill="#000"/>
<rect x="1088" y="176" width="5" height="27" fill="#000"/>
<rect x="1089" y="177" width="3" height="25" fill="#00ff00"/>
<rect x="1098" y="187" width="1" height="34" fill="#000"/>
<rect x="1096" y="202" width="5" height="11" fill="#000"/>
<rect x="1097" y="203" width="3" height="9" fill="#00ff00"/>
<rect x="1106" y="197" width="1" height="21" fill="#000"/>
<rect x="1104" y="198" width="5" height="15" fill="#000"/>
<rect x="1105" y="199" width="3" height="13" fill="#ff0000"/>
<rect x="1114" y="156" width="1" height="44" fill="#000"/>
<rect x="1112" y="166" width="5" height="33" fill="#000"/>
<rect x="1113" y="167" width="3" height="31" fill="#ff0000"/>
<rect x="1122" y="135" width="1" height="36" fill="#000"/>
<rect x="1120" y="150" width="5" height="17" fill="#000"/>
<rect x="1121" y="151" width="3" height="15" fill="#ff0000"/>
<rect x="1130" y="140" width="1" height="25" fill="#000"/>
<rect x="1128" y="150" width="5" height="1" fill="#000"/>
<rect x="1138" y="140" width="1" height="74" fill="#000"/>
<rect x="1136" y="150" width="5" height="46" fill="#000"/>
<rect x="1137" y="151" width="3" height="44" fill="#00ff00"/>
<rect x="1146" y="183" width="1" height="36" fill="#000"/>
<rect x="1144" y="185" width="5" height="12" fill="#000"/>
<rect x="1145" y="186" width="3" height="10" fill="#ff0000"/>
<rect x="1154" y="167" width="1" height="28" fill="#000"/>
<rect x="1152" y="168" width="5" height="17" fill="#000"/>
<rect x="1153" y="169" width="3" height="15" fill="#ff0000"/>
<rect x="1162" y="147" width="1" height="48" fill="#000"/>
<rect x="1160" y="167" width="5" height="1" fill="#000"/>
<rect x="1170" y="144" width="1" height="41" fill="#000"/>
<rect x="1168" y="151" width="5" height="17" fill="#000"/>
<rect x="1169" y="152" width="3" height="15" fill="#ff0000"/>
<rect x="1178" y="148" width="1" height="29" fill="#000"/>
<rect x="1176" y="151" width="5" height="21" fill="#000"/>
<rect x="1177" y="152" width="3" height="19" fill="#00ff00"/>
<rect x="1186" y="146" width="1" height="45" fill="#000"/>
<rect x="1184" y="150" width="5" height="23" fill="#000"/>
<rect x="1185" y="151" width="3" height="21" fill="#ff0000"/>
<rect x="1194" y="114" width="1" height="40" fill="#000"/>
<rect x="1192" y="145" width="5" height="6" fill="#000"/>
<rect x="1193" y="146" width="3" height="4" fill="#ff0000"/>
<rect x="1202" y="129" width="1" height="23" fill="#000"/>
<rect x="1200" y="142" width="5" height="4" fill="#000"/>
<rect x="1201" y="143" width="3" height="2" fill="#ff0000"/>
<rect x="1210" y="132" width="1" height="20" fill="#000"/>
<rect x="1208" y="142" width="5" height="6" fill="#000"/>
<rect x="1209" y="143" width="3" height="4" fill="#00ff00"/>
<rect x="1218" y="144" width="1" height="15" fill="#000"/>
<rect x="1216" y="147" width="5" height="6" fill="#000"/>
<rect x="1217" y="148" width="3" height="4" fill="#00ff00"/>
<rect x="1226" y="138" width="1" height="35" fill="#000"/>
<rect x="1224" y="153" width="5" height="1" fill="#000"/>
<rect x="1234" y="149" width="1" height="82" fill="#000"/>
<rect x="1232" y="153" width="5" height="60" fill="#000"/>
<rect x="1233" y="154" width="3" height="58" fill="#00ff00"/>
<rect x="1242" y="196" width="1" height="22" fill="#000"/>
<rect x="1240" y="210" width="5" height="3" fill="#000"/>
<rect x="1241" y="211" width="3" height="1" fill="#ff0000"/>
<rect x="1250" y="231" width="1" height="16" fill="#000"/>
<rect x="1248" y="232" width="5" height="9" fill="#000"/>
<rect x="1249" y="233" width="3" height="7" fill="#ff0000"/>
<rect x="1258" y="216" width="1" height="45" fill="#000"/>
<rect x="1256" y="232" width="5" height="26" fill="#000"/>
<rect x="1257" y="233" width="3" height="24" fill="#00ff00"/>
<rect x="1266" y="240" width="1" height="27" fill="#000"/>
<rect x="1264" y="257" width="5" height="6" fill="#000"/>
<rect x="1265" y="258" width="3" height="4" fill="#00ff00"/>
<rect x="1274" y="227" width="1" height="39" fill="#000"/>
<rect x="1272" y="229" width="5" height="34" fill="#000"/>
<rect x="1273" y="230" width="3" height="32" fill="#ff0000"/>
<rect x="1282" y="216" width="1" height="45" fill="#000"/>
<rect x="1280" y="229" width="5" height="30" fill="#000"/>
<rect x="1281" y="230" width="3" height="28" fill="#00ff00"/>
<rect x="1290" y="240" width="1" height="23" fill="#000"/>
<rect x="1288" y="252" width="5" height="7" fill="#000"/>
<rect x="1289" y="253" width="3" height="5" fill="#ff0000"/>
<rect x="1298" y="249" width="1" height="17" fill="#000"/>
<rect x="1296" y="252" width="5" height="8" fill="#000"/>
<rect x="1297" y="253" width="3" height="6" fill="#00ff00"/>
<rect x="1306" y="253" width="1" height="23" fill="#000"/>
<rect x="1304" y="261" width="5" height="1" fill="#000"/>
<polyline fill="none" stroke="#3cb371" stroke-width="1" stroke-linejoin="round" shape-rendering="crispEdges"  points="0.5,252.2 5.5,254.4 9.5,256.3 21.5,256.4 30.5,254.8 41.5,252.6 50.5,252 62.5,251.6 80.5,250.5 97.5,252 103.5,259.8 108.5,270.6 114.5,278.7 123.5,282.3 132.5,281.8 144.5,281.4 157.5,281 164.5,278.5 172.5,270 180.5,267 188.5,267.4 200.5,273 204.5,274.4 220.5,273.6 240.5,272 252.5,269 264.5,263 280.5,256 284.5,255 292.5,256.4 300.5,255.6 312.5,253.6 322.5,254.4 328.5,261.6 340.5,274 350.5,285 356.5,295 364.5,307 372.5,317 378.5,330 386.5,341 396.5,356 404.5,369 414.5,381 424.5,393.5 436.5,408.5 448.5,427 458.5,439 468.5,435 480.5,426 490.5,420.3 498.5,418.4 506.5,420 516.5,427 524.5,429.6 538.5,434.4 552.5,436 560.5,440 570.5,445.8 578.5,457 588.5,467 596.5,479.5 604.5,496 612.5,512 618.5,521 628.5,520.4 640.5,519.4 652.5,517 658.5,516 668.5,519 680.5,522 690.5,524 698.5,526.4 704.5,510 708.5,497 714.5,477.5 721.5,455 730.5,434 738.5,414 746.5,386 754.5,356 762.5,332 770.5,308 776.5,293 782.5,276 790.5,250 798.5,226 806.5,204 816.5,180 826.5,164 836.5,151 846.5,140 852.5,136.6 858.5,135.6 866.5,128 874.5,120 883.5,111 890.5,113.6 898.5,113 906.5,118 914.5,123 922.5,133 930.5,137 940.5,141 950.5,145 960.5,146.7 970.5,143 978.5,139 986.5,131 990.5,120 994.5,111 998.5,102 1006.5,93 1016.5,86 1028.5,81 1040.5,78 1050.5,76 1058.5,75.4 1066.5,78 1074.5,84 1082.5,89 1092.5,88.6 1104.5,87.6 1120.5,87.6 1136.5,86.4 1144.5,88 1150.5,96 1156.5,106 1162.5,113 1170.5,117 1178.5,122 1186.5,124 1194.5,125 1202.5,123 1210.5,124 1218.5,125.4 1226.5,124 1234.5,124 1242.5,122 1250.5,119 1258.5,113 1266.5,105.6 1274.5,105 1282.5,106 1290.5,107 1300.5,106 1306.5,105"/>
<polyline fill="none" stroke="#3cb371" stroke-width="1" stroke-linejoin="round" shape-rendering="crispEdges"  points="0.5,296.5 8.5,298.5 20.5,300.5 32.5,301.3 41.5,299.3 60.5,302 78.5,308 94.5,313.5 108.5,320.3 119.5,323.5 130.5,323.8 144.5,324 157.5,323.3 170.5,321.1 180.5,319 190.5,318 200.5,319.4 216.5,320.4 230.5,320 250.5,321.6 270.5,327 280.5,330 290.5,337 300.5,344 312.5,354 324.5,366 336.5,381.5 350.5,394 364.5,408 376.5,421.5 392.5,435 404.5,444 420.5,451.6 432.5,458 440.5,461.5 452.5,466 464.5,472 480.5,482.5 496.5,491.5 512.5,500 524.5,506 532.5,508.6 544.5,514 560.5,522 576.5,529 588.5,534 598.5,538 606.5,543 612.5,549 618.5,553.6 628.5,556.4 640.5,558.4 652.5,561.6 664.5,564.4 676.5,566.4 688.5,568 698.5,569 704.5,566 708.5,562 714.5,557.5 720.5,551.8 736.5,540 750.5,526 764.5,510 776.5,492 788.5,470 794.5,457 806.5,432 818.5,406 830.5,378 842.5,350 852.5,328 860.5,312 869.5,298 878.5,282 886.5,268 894.5,254 902.5,246 910.5,241 918.5,236 926.5,230 934.5,222 942.5,216 954.5,210 966.5,202 978.5,196 988.5,189 996.5,183 1006.5,179 1016.5,175 1028.5,173 1040.5,170 1050.5,167 1060.5,166 1070.5,163 1080.5,159.3 1090.5,159 1100.5,160 1110.5,159.5 1120.5,157 1130.5,156 1142.5,159 1154.5,165.5 1166.5,169 1178.5,171.6 1190.5,172.4 1202.5,171.5 1218.5,172.3 1230.5,170 1242.5,171.8 1258.5,175.6 1270.5,179 1278.5,184 1290.5,192 1298.5,195.4 1306.5,198.6"/>
<polyline fill="none" stroke="#3cb371" stroke-width="1" stroke-linejoin="round" shape-rendering="crispEdges"  points="0.5,337.4 8.5,339 16.5,343 26.5,348.4 40.5,346.6 52.5,349 64.5,354 76.5,362 88.5,370 98.5,374.4 108.5,368 115.5,364.4 124.5,366 140.5,367 160.5,366.6 172.5,371.6 184.5,370 200.5,368 220.5,366.4 236.5,367 246.5,371 258.5,382 268.5,392 280.5,406 292.5,420 304.5,440 316.5,460 326.5,478 338.5,492 348.5,502 360.5,507 370.5,514 380.5,516 388.5,519.4 396.5,520.4 410.5,520 420.5,517.6 428.5,515 440.5,508 450.5,500.5 458.5,498 464.5,508.5 472.5,525 480.5,540 488.5,554 498.5,567 506.5,574 516.5,579 528.5,585 538.5,590 548.5,598 556.5,604 564.5,607 570.5,609.4 580.5,607 588.5,604 596.5,599 604.5,592 610.5,588 618.5,588 628.5,593 640.5,598 650.5,603 658.5,610 666.5,612 676.5,613.4 688.5,612.4 699.5,612.2 708.5,625.6 716.5,645 812.5,655 821.9,625.6 830.2,599.7 838.2,575.7 844.2,555.8 850.2,533.8 854.2,515.8 857.2,499.9 860.2,489.9 866.2,472 874.2,456 882.5,438 890.5,414 898.5,390 906.5,370 914.5,356 920.5,336 930.5,314 938.5,299 946.5,288 954.5,278 962.5,268 970.5,263 978.5,259 986.5,256.4 992.5,261 1002.5,265.4 1014.5,264.4 1026.5,263.6 1038.5,263 1048.5,260 1058.5,258.4 1066.5,251 1074.5,240 1082.5,228.4 1090.5,229 1100.5,233.4 1110.5,229.6 1120.5,227 1130.5,226.4 1138.5,229 1146.5,232.4 1154.5,226 1162.5,222.4 1174.5,220.4 1190.5,219 1206.5,219 1218.5,219 1230.5,216.4 1238.5,217 1246.5,222 1254.5,230 1262.5,244 1270.5,254 1278.5,264 1286.5,273 1298.5,284 1306.5,291.4"/>
</g>
<rect x="1654" y="29" width="2" height="1" fill="#000"/>
<text x="1659.3" y="33" font-size="9.9" fill="#000" stroke="#000" stroke-width="0.13" textLength="32.2" lengthAdjust="spacingAndGlyphs" text-rendering="geometricPrecision" >1.31010</text>
<rect x="1654" y="62" width="2" height="1" fill="#000"/>
<text x="1659.3" y="66" font-size="9.9" fill="#000" stroke="#000" stroke-width="0.13" textLength="32.2" lengthAdjust="spacingAndGlyphs" text-rendering="geometricPrecision" >1.30680</text>
<rect x="1654" y="95" width="2" height="1" fill="#000"/>
<text x="1659.3" y="99" font-size="9.9" fill="#000" stroke="#000" stroke-width="0.13" textLength="32.2" lengthAdjust="spacingAndGlyphs" text-rendering="geometricPrecision" >1.30350</text>
<rect x="1654" y="128" width="2" height="1" fill="#000"/>
<text x="1659.3" y="132" font-size="9.9" fill="#000" stroke="#000" stroke-width="0.13" textLength="32.2" lengthAdjust="spacingAndGlyphs" text-rendering="geometricPrecision" >1.30020</text>
<rect x="1654" y="161" width="2" height="1" fill="#000"/>
<text x="1659.3" y="165" font-size="9.9" fill="#000" stroke="#000" stroke-width="0.13" textLength="32.2" lengthAdjust="spacingAndGlyphs" text-rendering="geometricPrecision" >1.29690</text>
<rect x="1654" y="194" width="2" height="1" fill="#000"/>
<text x="1659.3" y="198" font-size="9.9" fill="#000" stroke="#000" stroke-width="0.13" textLength="32.2" lengthAdjust="spacingAndGlyphs" text-rendering="geometricPrecision" >1.29360</text>
<rect x="1654" y="227" width="2" height="1" fill="#000"/>
<text x="1659.3" y="231" font-size="9.9" fill="#000" stroke="#000" stroke-width="0.13" textLength="32.2" lengthAdjust="spacingAndGlyphs" text-rendering="geometricPrecision" >1.29020</text>
<rect x="1654" y="260" width="2" height="1" fill="#000"/>
<text x="1659.3" y="264" font-size="9.9" fill="#000" stroke="#000" stroke-width="0.13" textLength="32.2" lengthAdjust="spacingAndGlyphs" text-rendering="geometricPrecision" >1.28690</text>
<rect x="1654" y="293" width="2" height="1" fill="#000"/>
<text x="1659.3" y="297" font-size="9.9" fill="#000" stroke="#000" stroke-width="0.13" textLength="32.2" lengthAdjust="spacingAndGlyphs" text-rendering="geometricPrecision" >1.28360</text>
<rect x="1654" y="326" width="2" height="1" fill="#000"/>
<text x="1659.3" y="330" font-size="9.9" fill="#000" stroke="#000" stroke-width="0.13" textLength="32.2" lengthAdjust="spacingAndGlyphs" text-rendering="geometricPrecision" >1.28030</text>
<rect x="1654" y="359" width="2" height="1" fill="#000"/>
<text x="1659.3" y="363" font-size="9.9" fill="#000" stroke="#000" stroke-width="0.13" textLength="32.2" lengthAdjust="spacingAndGlyphs" text-rendering="geometricPrecision" >1.27700</text>
<rect x="1654" y="392" width="2" height="1" fill="#000"/>
<text x="1659.3" y="396" font-size="9.9" fill="#000" stroke="#000" stroke-width="0.13" textLength="32.2" lengthAdjust="spacingAndGlyphs" text-rendering="geometricPrecision" >1.27370</text>
<rect x="1654" y="425" width="2" height="1" fill="#000"/>
<text x="1659.3" y="429" font-size="9.9" fill="#000" stroke="#000" stroke-width="0.13" textLength="32.2" lengthAdjust="spacingAndGlyphs" text-rendering="geometricPrecision" >1.27030</text>
<rect x="1654" y="458" width="2" height="1" fill="#000"/>
<text x="1659.3" y="462" font-size="9.9" fill="#000" stroke="#000" stroke-width="0.13" textLength="32.2" lengthAdjust="spacingAndGlyphs" text-rendering="geometricPrecision" >1.26700</text>
<rect x="1654" y="491" width="2" height="1" fill="#000"/>
<text x="1659.3" y="495" font-size="9.9" fill="#000" stroke="#000" stroke-width="0.13" textLength="32.2" lengthAdjust="spacingAndGlyphs" text-rendering="geometricPrecision" >1.26370</text>
<rect x="1654" y="524" width="2" height="1" fill="#000"/>
<text x="1659.3" y="528" font-size="9.9" fill="#000" stroke="#000" stroke-width="0.13" textLength="32.2" lengthAdjust="spacingAndGlyphs" text-rendering="geometricPrecision" >1.26040</text>
<rect x="1654" y="557" width="2" height="1" fill="#000"/>
<text x="1659.3" y="561" font-size="9.9" fill="#000" stroke="#000" stroke-width="0.13" textLength="32.2" lengthAdjust="spacingAndGlyphs" text-rendering="geometricPrecision" >1.25710</text>
<rect x="1654" y="590" width="2" height="1" fill="#000"/>
<text x="1659.3" y="594" font-size="9.9" fill="#000" stroke="#000" stroke-width="0.13" textLength="32.2" lengthAdjust="spacingAndGlyphs" text-rendering="geometricPrecision" >1.25380</text>
<rect x="1654" y="623" width="2" height="1" fill="#000"/>
<text x="1659.3" y="627" font-size="9.9" fill="#000" stroke="#000" stroke-width="0.13" textLength="32.2" lengthAdjust="spacingAndGlyphs" text-rendering="geometricPrecision" >1.25050</text>
<rect x="0" y="180" width="1653" height="2" fill="#ff0000"/>
<rect x="0" y="214" width="1653" height="2" fill="#ff0000"/>
<rect x="0" y="250" width="1653" height="2" fill="#ffa500"/>
<rect x="0" y="295" width="1653" height="2" fill="#0000ff"/>
<rect x="0" y="330" width="1653" height="2" fill="#0000ff"/>
<rect x="0" y="261" width="1656" height="1" fill="#000"/>
<rect x="1647" y="178" width="6" height="6" fill="#ff0000"/>
<rect x="1649" y="180" width="2" height="2" fill="#fff"/>
<rect x="1647" y="212" width="6" height="6" fill="#ff0000"/>
<rect x="1649" y="214" width="2" height="2" fill="#fff"/>
<rect x="1647" y="248" width="6" height="6" fill="#ffa500"/>
<rect x="1649" y="250" width="2" height="2" fill="#fff"/>
<rect x="1647" y="293" width="6" height="6" fill="#0000ff"/>
<rect x="1649" y="295" width="2" height="2" fill="#fff"/>
<rect x="1647" y="328" width="6" height="6" fill="#0000ff"/>
<rect x="1649" y="330" width="2" height="2" fill="#fff"/>
<rect x="1653" y="23" width="1" height="902" fill="#000"/>
<rect x="1655" y="175" width="41" height="11" fill="#ff0000"/>
<text x="1659.3" y="184" font-size="9.9" fill="#fff" stroke="#fff" stroke-width="0.13" textLength="32.2" lengthAdjust="spacingAndGlyphs" text-rendering="geometricPrecision" >1.29485</text>
<rect x="1655" y="209" width="41" height="11" fill="#ff0000"/>
<text x="1659.3" y="218" font-size="9.9" fill="#fff" stroke="#fff" stroke-width="0.13" textLength="32.2" lengthAdjust="spacingAndGlyphs" text-rendering="geometricPrecision" >1.29144</text>
<rect x="1655" y="245" width="41" height="11" fill="#ffa500"/>
<text x="1659.3" y="254" font-size="9.9" fill="#fff" stroke="#fff" stroke-width="0.13" textLength="32.2" lengthAdjust="spacingAndGlyphs" text-rendering="geometricPrecision" >1.28782</text>
<rect x="1655" y="290" width="41" height="11" fill="#0000ff"/>
<text x="1659.3" y="299" font-size="9.9" fill="#fff" stroke="#fff" stroke-width="0.13" textLength="32.2" lengthAdjust="spacingAndGlyphs" text-rendering="geometricPrecision" >1.28331</text>
<rect x="1655" y="325" width="41" height="11" fill="#0000ff"/>
<text x="1659.3" y="334" font-size="9.9" fill="#fff" stroke="#fff" stroke-width="0.13" textLength="32.2" lengthAdjust="spacingAndGlyphs" text-rendering="geometricPrecision" >1.27980</text>
<rect x="1655" y="256" width="41" height="11" fill="#000"/>
<text x="1659.3" y="265" font-size="9.9" fill="#fff" stroke="#fff" stroke-width="0.13" textLength="32.2" lengthAdjust="spacingAndGlyphs" text-rendering="geometricPrecision" >1.28688</text>
<g shape-rendering="auto"><line x1="1203" y1="132.5" x2="1322" y2="254.5" stroke="#9dc63f" stroke-width="3.9"/>
<polygon points="1336.5,269.5 1330.3,250.3 1318,262.6" fill="#9dc63f"/></g>
<text x="9.4" y="34.9" font-size="9.9" fill="#000" stroke="#000" stroke-width="0.13" textLength="58.3" lengthAdjust="spacingAndGlyphs" text-rendering="geometricPrecision" >USDCAD-,H4</text>
<text x="74.2" y="34.9" font-size="9.9" fill="#000" stroke="#000" stroke-width="0.13" textLength="32.4" lengthAdjust="spacingAndGlyphs" text-rendering="geometricPrecision" >1.28693</text>
<text x="110.4" y="34.9" font-size="9.9" fill="#000" stroke="#000" stroke-width="0.13" textLength="32.4" lengthAdjust="spacingAndGlyphs" text-rendering="geometricPrecision" >1.28763</text>
<text x="146.6" y="34.9" font-size="9.9" fill="#000" stroke="#000" stroke-width="0.13" textLength="32.4" lengthAdjust="spacingAndGlyphs" text-rendering="geometricPrecision" >1.28542</text>
<text x="182.4" y="34.9" font-size="9.9" fill="#000" stroke="#000" stroke-width="0.13" textLength="32.4" lengthAdjust="spacingAndGlyphs" text-rendering="geometricPrecision" >1.28688</text>
<g clip-path="url(#cd)">
<rect x="1" y="731" width="3" height="30" fill="#00ff00"/>
<rect x="9" y="731" width="3" height="29" fill="#00ff00"/>
<rect x="17" y="731" width="3" height="28" fill="#00ff00"/>
<rect x="25" y="731" width="3" height="31" fill="#00ff00"/>
<rect x="33" y="731" width="3" height="27" fill="#00ff00"/>
<rect x="41" y="731" width="3" height="22" fill="#00ff00"/>
<rect x="49" y="731" width="3" height="22" fill="#00ff00"/>
<rect x="57" y="731" width="3" height="22" fill="#00ff00"/>
<rect x="65" y="731" width="3" height="25" fill="#00ff00"/>
<rect x="73" y="731" width="3" height="25" fill="#00ff00"/>
<rect x="81" y="731" width="3" height="27" fill="#00ff00"/>
<rect x="89" y="731" width="3" height="28" fill="#00ff00"/>
<rect x="97" y="731" width="3" height="27" fill="#00ff00"/>
<rect x="105" y="731" width="3" height="25" fill="#00ff00"/>
<rect x="113" y="731" width="3" height="25" fill="#00ff00"/>
<rect x="121" y="731" width="3" height="25" fill="#00ff00"/>
<rect x="129" y="731" width="3" height="17" fill="#00ff00"/>
<rect x="137" y="731" width="3" height="16" fill="#00ff00"/>
<rect x="145" y="731" width="3" height="13" fill="#00ff00"/>
<rect x="153" y="731" width="3" height="11" fill="#00ff00"/>
<rect x="161" y="731" width="3" height="9" fill="#00ff00"/>
<rect x="169" y="731" width="3" height="3" fill="#00ff00"/>
<rect x="177" y="731" width="3" height="1" fill="#00ff00"/>
<rect x="185" y="731" width="3" height="1" fill="#00ff00"/>
<rect x="193" y="731" width="3" height="1" fill="#00ff00"/>
<rect x="201" y="731" width="3" height="1" fill="#00ff00"/>
<rect x="209" y="731" width="3" height="2" fill="#00ff00"/>
<rect x="217" y="731" width="3" height="3" fill="#00ff00"/>
<rect x="225" y="731" width="3" height="5" fill="#00ff00"/>
<rect x="233" y="731" width="3" height="9" fill="#00ff00"/>
<rect x="241" y="731" width="3" height="11" fill="#00ff00"/>
<rect x="249" y="731" width="3" height="15" fill="#00ff00"/>
<rect x="257" y="731" width="3" height="19" fill="#00ff00"/>
<rect x="265" y="731" width="3" height="21" fill="#00ff00"/>
<rect x="273" y="731" width="3" height="23" fill="#00ff00"/>
<rect x="281" y="731" width="3" height="27" fill="#00ff00"/>
<rect x="289" y="731" width="3" height="29" fill="#00ff00"/>
<rect x="297" y="731" width="3" height="32" fill="#00ff00"/>
<rect x="305" y="731" width="3" height="34" fill="#00ff00"/>
<rect x="313" y="731" width="3" height="37" fill="#00ff00"/>
<rect x="321" y="731" width="3" height="42" fill="#00ff00"/>
<rect x="329" y="731" width="3" height="45" fill="#00ff00"/>
<rect x="337" y="731" width="3" height="47" fill="#00ff00"/>
<rect x="345" y="731" width="3" height="45" fill="#00ff00"/>
<rect x="353" y="731" width="3" height="43" fill="#00ff00"/>
<rect x="361" y="731" width="3" height="43" fill="#00ff00"/>
<rect x="369" y="731" width="3" height="45" fill="#00ff00"/>
<rect x="377" y="731" width="3" height="44" fill="#00ff00"/>
<rect x="385" y="731" width="3" height="45" fill="#00ff00"/>
<rect x="393" y="731" width="3" height="44" fill="#00ff00"/>
<rect x="401" y="731" width="3" height="43" fill="#00ff00"/>
<rect x="409" y="731" width="3" height="42" fill="#00ff00"/>
<rect x="417" y="731" width="3" height="37" fill="#00ff00"/>
<rect x="425" y="731" width="3" height="36" fill="#00ff00"/>
<rect x="433" y="731" width="3" height="33" fill="#00ff00"/>
<rect x="441" y="731" width="3" height="29" fill="#00ff00"/>
<rect x="449" y="731" width="3" height="27" fill="#00ff00"/>
<rect x="457" y="731" width="3" height="27" fill="#00ff00"/>
<rect x="465" y="731" width="3" height="32" fill="#00ff00"/>
<rect x="473" y="731" width="3" height="37" fill="#00ff00"/>
<rect x="481" y="731" width="3" height="39" fill="#00ff00"/>
<rect x="489" y="731" width="3" height="42" fill="#00ff00"/>
<rect x="497" y="731" width="3" height="44" fill="#00ff00"/>
<rect x="505" y="731" width="3" height="44" fill="#00ff00"/>
<rect x="513" y="731" width="3" height="43" fill="#00ff00"/>
<rect x="521" y="731" width="3" height="41" fill="#00ff00"/>
<rect x="529" y="731" width="3" height="39" fill="#00ff00"/>
<rect x="537" y="731" width="3" height="38" fill="#00ff00"/>
<rect x="545" y="731" width="3" height="38" fill="#00ff00"/>
<rect x="553" y="731" width="3" height="39" fill="#00ff00"/>
<rect x="561" y="731" width="3" height="37" fill="#00ff00"/>
<rect x="569" y="731" width="3" height="35" fill="#00ff00"/>
<rect x="577" y="731" width="3" height="33" fill="#00ff00"/>
<rect x="585" y="731" width="3" height="28" fill="#00ff00"/>
<rect x="593" y="731" width="3" height="25" fill="#00ff00"/>
<rect x="601" y="731" width="3" height="22" fill="#00ff00"/>
<rect x="609" y="731" width="3" height="25" fill="#00ff00"/>
<rect x="617" y="731" width="3" height="28" fill="#00ff00"/>
<rect x="625" y="731" width="3" height="29" fill="#00ff00"/>
<rect x="633" y="731" width="3" height="29" fill="#00ff00"/>
<rect x="641" y="731" width="3" height="28" fill="#00ff00"/>
<rect x="649" y="731" width="3" height="29" fill="#00ff00"/>
<rect x="657" y="731" width="3" height="30" fill="#00ff00"/>
<rect x="665" y="731" width="3" height="27" fill="#00ff00"/>
<rect x="673" y="731" width="3" height="26" fill="#00ff00"/>
<rect x="681" y="731" width="3" height="23" fill="#00ff00"/>
<rect x="689" y="731" width="3" height="19" fill="#00ff00"/>
<rect x="697" y="731" width="3" height="17" fill="#00ff00"/>
<rect x="705" y="731" width="3" height="8" fill="#00ff00"/>
<rect x="713" y="726" width="3" height="5" fill="#00ff00"/>
<rect x="721" y="716" width="3" height="15" fill="#00ff00"/>
<rect x="729" y="709" width="3" height="22" fill="#00ff00"/>
<rect x="737" y="702" width="3" height="29" fill="#00ff00"/>
<rect x="745" y="694" width="3" height="37" fill="#00ff00"/>
<rect x="753" y="685" width="3" height="46" fill="#00ff00"/>
<rect x="761" y="680" width="3" height="51" fill="#00ff00"/>
<rect x="769" y="674" width="3" height="57" fill="#00ff00"/>
<rect x="777" y="668" width="3" height="63" fill="#00ff00"/>
<rect x="785" y="662" width="3" height="69" fill="#00ff00"/>
<rect x="793" y="656" width="3" height="75" fill="#00ff00"/>
<rect x="801" y="653" width="3" height="78" fill="#00ff00"/>
<rect x="809" y="648" width="3" height="83" fill="#00ff00"/>
<rect x="817" y="645" width="3" height="86" fill="#00ff00"/>
<rect x="825" y="644" width="3" height="87" fill="#00ff00"/>
<rect x="833" y="643" width="3" height="88" fill="#00ff00"/>
<rect x="841" y="640" width="3" height="91" fill="#00ff00"/>
<rect x="849" y="638" width="3" height="93" fill="#00ff00"/>
<rect x="857" y="637" width="3" height="94" fill="#00ff00"/>
<rect x="865" y="637" width="3" height="94" fill="#00ff00"/>
<rect x="873" y="637" width="3" height="94" fill="#00ff00"/>
<rect x="881" y="638" width="3" height="93" fill="#00ff00"/>
<rect x="889" y="643" width="3" height="88" fill="#00ff00"/>
<rect x="897" y="644" width="3" height="87" fill="#00ff00"/>
<rect x="905" y="653" width="3" height="78" fill="#00ff00"/>
<rect x="913" y="662" width="3" height="69" fill="#00ff00"/>
<rect x="921" y="669" width="3" height="62" fill="#00ff00"/>
<rect x="929" y="671" width="3" height="60" fill="#00ff00"/>
<rect x="937" y="672" width="3" height="59" fill="#00ff00"/>
<rect x="945" y="676" width="3" height="55" fill="#00ff00"/>
<rect x="953" y="678" width="3" height="53" fill="#00ff00"/>
<rect x="961" y="679" width="3" height="52" fill="#00ff00"/>
<rect x="969" y="679" width="3" height="52" fill="#00ff00"/>
<rect x="977" y="680" width="3" height="51" fill="#00ff00"/>
<rect x="985" y="678" width="3" height="53" fill="#00ff00"/>
<rect x="993" y="672" width="3" height="59" fill="#00ff00"/>
<rect x="1001" y="670" width="3" height="61" fill="#00ff00"/>
<rect x="1009" y="672" width="3" height="59" fill="#00ff00"/>
<rect x="1017" y="674" width="3" height="57" fill="#00ff00"/>
<rect x="1025" y="676" width="3" height="55" fill="#00ff00"/>
<rect x="1033" y="680" width="3" height="51" fill="#00ff00"/>
<rect x="1041" y="684" width="3" height="47" fill="#00ff00"/>
<rect x="1049" y="687" width="3" height="44" fill="#00ff00"/>
<rect x="1057" y="691" width="3" height="40" fill="#00ff00"/>
<rect x="1065" y="697" width="3" height="34" fill="#00ff00"/>
<rect x="1073" y="706" width="3" height="25" fill="#00ff00"/>
<rect x="1081" y="709" width="3" height="22" fill="#00ff00"/>
<rect x="1089" y="714" width="3" height="17" fill="#00ff00"/>
<rect x="1097" y="719" width="3" height="12" fill="#00ff00"/>
<rect x="1105" y="722" width="3" height="9" fill="#00ff00"/>
<rect x="1113" y="721" width="3" height="10" fill="#00ff00"/>
<rect x="1121" y="719" width="3" height="12" fill="#00ff00"/>
<rect x="1129" y="718" width="3" height="13" fill="#00ff00"/>
<rect x="1137" y="721" width="3" height="10" fill="#00ff00"/>
<rect x="1145" y="723" width="3" height="8" fill="#00ff00"/>
<rect x="1153" y="722" width="3" height="9" fill="#00ff00"/>
<rect x="1161" y="721" width="3" height="10" fill="#00ff00"/>
<rect x="1169" y="721" width="3" height="10" fill="#00ff00"/>
<rect x="1177" y="721" width="3" height="10" fill="#00ff00"/>
<rect x="1185" y="721" width="3" height="10" fill="#00ff00"/>
<rect x="1193" y="719" width="3" height="12" fill="#00ff00"/>
<rect x="1201" y="718" width="3" height="13" fill="#00ff00"/>
<rect x="1209" y="718" width="3" height="13" fill="#00ff00"/>
<rect x="1217" y="718" width="3" height="13" fill="#00ff00"/>
<rect x="1225" y="720" width="3" height="11" fill="#00ff00"/>
<rect x="1233" y="725" width="3" height="6" fill="#00ff00"/>
<rect x="1241" y="729" width="3" height="2" fill="#00ff00"/>
<rect x="1249" y="731" width="3" height="5" fill="#00ff00"/>
<rect x="1257" y="731" width="3" height="11" fill="#00ff00"/>
<rect x="1265" y="731" width="3" height="17" fill="#00ff00"/>
<rect x="1273" y="731" width="3" height="18" fill="#00ff00"/>
<rect x="1281" y="731" width="3" height="22" fill="#00ff00"/>
<rect x="1289" y="731" width="3" height="23" fill="#00ff00"/>
<rect x="1297" y="731" width="3" height="25" fill="#00ff00"/>
<rect x="1305" y="731" width="3" height="26" fill="#00ff00"/>
<polyline fill="none" stroke="#ff0000" stroke-width="2" stroke-linejoin="round" shape-rendering="crispEdges" points="0,763 10,760 26,760 40,759.4 50,758 60,757 74,756.4 90,756 100,755.4 112,755 120,756 130,755.6 140,754 150,752 160,750.4 170,746.4 180,743 190,740.4 196,738 204,737 212,735 220,734 230,733 240,734 250,736.4 260,739 270,741.4 280,745 290,748.4 300,751.6 308,753.4 320,758 330,762 340,766 350,768.4 360,771 370,773.4 380,774.6 390,775 410,774.6 426,773.4 434,771.4 442,770 450,768.4 460,766 470,764 490,764 500,765.4 510,767 520,769 530,770 546,770.4 562,770.4 570,769 582,768 590,766.4 600,764 610,762.4 620,761.4 630,760 642,758.6 650,758 660,758 690,757.6 700,756 714,751 724,744 736,735 746,727 756,717 764,710 772,702 780,694 790,685 800,677 810,670 820,662.6 830,658 840,653 850,648.6 860,645 870,642.4 880,640.6 890,640 900,640.4 912,642.4 920,646 930,650.4 940,655 948,660 960,666 970,671 980,675 990,676 990,676 1042,676 1050,677.4 1058,679.4 1066,682.4 1074,685.4 1082,689 1090,694 1098,699.6 1106,703.6 1114,707.6 1122,711.4 1130,714.4 1140,716.6 1150,719.4 1156,721 1218,721 1220,720 1234,720 1242,721.6 1250,722.4 1258,725.4 1266,728.4 1274,731 1282,735 1290,739.4 1298,743.4 1306,746"/>
</g>
<text x="-1.2" y="641" font-size="9.9" fill="#000" stroke="#000" stroke-width="0.13" textLength="153.2" lengthAdjust="spacingAndGlyphs" text-rendering="geometricPrecision" >MACD(12,26,9) -0.002242 -0.001367</text>
<rect x="1654" y="630" width="1" height="1" fill="#000"/>
<rect x="1654" y="731" width="1" height="1" fill="#000"/>
<rect x="1654" y="783" width="1" height="1" fill="#000"/>
<text x="1657" y="638.6" font-size="9.9" fill="#000" stroke="#000" stroke-width="0.13" textLength="37.9" lengthAdjust="spacingAndGlyphs" text-rendering="geometricPrecision" >0.008791</text>
<text x="1657" y="735" font-size="9.9" fill="#000" stroke="#000" stroke-width="0.13" textLength="17.5" lengthAdjust="spacingAndGlyphs" text-rendering="geometricPrecision" >0.00</text>
<text x="1657.2" y="780.6" font-size="9.9" fill="#000" stroke="#000" stroke-width="0.13" textLength="40.5" lengthAdjust="spacingAndGlyphs" text-rendering="geometricPrecision" >-0.004601</text>
<g clip-path="url(#cr)">
<line x1="1" y1="815.5" x2="1653" y2="815.5" stroke="#000" stroke-width="1" stroke-dasharray="3 3"/>
<line x1="1" y1="855.5" x2="1653" y2="855.5" stroke="#000" stroke-width="1" stroke-dasharray="3 3"/>
<line x1="1" y1="903.5" x2="1653" y2="903.5" stroke="#000" stroke-width="1" stroke-dasharray="3 3"/>
<polyline fill="none" stroke="#1e90ff" stroke-width="2" stroke-linejoin="round" shape-rendering="crispEdges" points="2.5,867.6 10.5,864 18.5,871 26.5,871 34.5,859.6 42.5,855.6 50.5,863.6 58.5,867.4 66.5,869.6 74.5,870 82.5,870 90.5,872 98.5,867 106.5,862.6 114.5,867 122.5,864.6 130.5,849.6 138.5,858 146.5,855.6 154.5,857 162.5,852.6 170.5,844.4 178.5,852 186.5,858 194.5,857.6 202.5,857 210.5,859 218.5,858 226.5,864.4 234.5,867.6 242.5,868 250.5,873 258.5,875 266.5,875 274.5,876 282.5,879.6 290.5,880 298.5,884.6 306.5,885 314.5,888 322.5,893 330.5,893 338.5,893 346.5,883 354.5,880.6 362.5,884.6 370.5,888 378.5,884.6 386.5,887.4 394.5,880 402.5,877.6 410.5,881.4 418.5,866 426.5,871.4 434.5,866 442.5,865.6 450.5,868 458.5,872 466.5,887 474.5,888.6 482.5,889 490.5,889 498.5,890 506.5,883 514.5,880 522.5,880 530.5,878.6 538.5,878.6 546.5,885.4 554.5,888.4 562.5,877 570.5,874 578.5,870.6 586.5,864.6 594.5,859.6 602.5,864.4 610.5,878 618.5,883.4 626.5,880 634.5,872.6 642.5,874.6 650.5,876 658.5,880 666.5,865.6 674.5,864.4 682.5,863 690.5,854.6 698.5,859 706.5,835.6 714.5,826.6 722.5,826.6 730.5,828 738.5,826.6 746.5,820.4 754.5,817.6 762.5,825 770.5,821.4 778.5,819.6 786.5,816.6 794.5,814.6 802.5,816.6 810.5,814 818.5,814 826.5,815.6 834.5,815.6 842.5,812 850.5,814 858.5,813.4 866.5,815 874.5,814.6 882.5,814 890.5,830 898.5,824 906.5,846.6 914.5,850 922.5,848 930.5,840 938.5,838.4 946.5,843 954.5,842.6 962.5,838 970.5,837.4 978.5,837 986.5,832.4 994.5,825.6 1002.5,832 1010.5,838.4 1018.5,838.6 1026.5,841.6 1034.5,842.4 1042.5,844.6 1050.5,844.6 1058.5,844.6 1066.5,855.6 1074.5,863 1082.5,853.6 1090.5,859.6 1098.5,861 1106.5,857.6 1114.5,850 1122.5,847.4 1130.5,847 1138.5,858 1146.5,856.6 1154.5,852.4 1162.5,852 1170.5,848.6 1178.5,853.4 1186.5,848 1194.5,847.6 1202.5,846.8 1210.5,848 1218.5,849.6 1226.5,849.6 1234.5,868 1242.5,868 1250.5,872.6 1258.5,877.6 1266.5,877.6 1274.5,866.4 1282.5,873 1290.5,870.6 1298.5,872 1306.5,872"/>
</g>
<text x="-2.2" y="799.1" font-size="9.9" fill="#000" stroke="#000" stroke-width="0.13" textLength="32" lengthAdjust="spacingAndGlyphs" text-rendering="geometricPrecision" >RSI(14)</text>
<text x="33" y="799.1" font-size="9.9" fill="#000" stroke="#000" stroke-width="0.13" textLength="33" lengthAdjust="spacingAndGlyphs" text-rendering="geometricPrecision" >37.6076</text>
<rect x="1654" y="788" width="1" height="1" fill="#000"/>
<rect x="1654" y="923" width="1" height="1" fill="#000"/>
<text x="1657.5" y="797" font-size="9.9" fill="#000" stroke="#000" stroke-width="0.13" textLength="14.6" lengthAdjust="spacingAndGlyphs" text-rendering="geometricPrecision" >100</text>
<text x="1655.8" y="819" font-size="9.9" fill="#000" stroke="#000" stroke-width="0.13" textLength="10.4" lengthAdjust="spacingAndGlyphs" text-rendering="geometricPrecision" >80</text>
<text x="1655.8" y="858.8" font-size="9.9" fill="#000" stroke="#000" stroke-width="0.13" textLength="10.4" lengthAdjust="spacingAndGlyphs" text-rendering="geometricPrecision" >50</text>
<text x="1655.8" y="906.8" font-size="9.9" fill="#000" stroke="#000" stroke-width="0.13" textLength="10.4" lengthAdjust="spacingAndGlyphs" text-rendering="geometricPrecision" >15</text>
<text x="1657.3" y="921" font-size="9.9" fill="#000" stroke="#000" stroke-width="0.13" textLength="4.6" lengthAdjust="spacingAndGlyphs" text-rendering="geometricPrecision" >0</text>
<rect x="-6" y="925" width="1" height="3" fill="#000"/>
<text x="-7.1" y="937" font-size="9.9" fill="#000" stroke="#000" stroke-width="0.13" textLength="54.1" lengthAdjust="spacingAndGlyphs" text-rendering="geometricPrecision" >19 May 2022</text>
<rect x="58" y="925" width="1" height="3" fill="#000"/>
<text x="56.9" y="937" font-size="9.9" fill="#000" stroke="#000" stroke-width="0.13" textLength="57.8" lengthAdjust="spacingAndGlyphs" text-rendering="geometricPrecision" >23 May 00:00</text>
<rect x="122" y="925" width="1" height="3" fill="#000"/>
<text x="120.9" y="937" font-size="9.9" fill="#000" stroke="#000" stroke-width="0.13" textLength="57.8" lengthAdjust="spacingAndGlyphs" text-rendering="geometricPrecision" >24 May 08:00</text>
<rect x="186" y="925" width="1" height="3" fill="#000"/>
<text x="184.9" y="937" font-size="9.9" fill="#000" stroke="#000" stroke-width="0.13" textLength="57.8" lengthAdjust="spacingAndGlyphs" text-rendering="geometricPrecision" >25 May 16:00</text>
<rect x="250" y="925" width="1" height="3" fill="#000"/>
<text x="248.9" y="937" font-size="9.9" fill="#000" stroke="#000" stroke-width="0.13" textLength="57.8" lengthAdjust="spacingAndGlyphs" text-rendering="geometricPrecision" >27 May 00:00</text>
<rect x="314" y="925" width="1" height="3" fill="#000"/>
<text x="312.9" y="937" font-size="9.9" fill="#000" stroke="#000" stroke-width="0.13" textLength="57.8" lengthAdjust="spacingAndGlyphs" text-rendering="geometricPrecision" >30 May 08:00</text>
<rect x="378" y="925" width="1" height="3" fill="#000"/>
<text x="376.9" y="937" font-size="9.9" fill="#000" stroke="#000" stroke-width="0.13" textLength="57.8" lengthAdjust="spacingAndGlyphs" text-rendering="geometricPrecision" >31 May 16:00</text>
<rect x="442" y="925" width="1" height="3" fill="#000"/>
<text x="440.9" y="937" font-size="9.9" fill="#000" stroke="#000" stroke-width="0.13" textLength="47.4" lengthAdjust="spacingAndGlyphs" text-rendering="geometricPrecision" >2 Jun 00:00</text>
<rect x="506" y="925" width="1" height="3" fill="#000"/>
<text x="504.9" y="937" font-size="9.9" fill="#000" stroke="#000" stroke-width="0.13" textLength="47.4" lengthAdjust="spacingAndGlyphs" text-rendering="geometricPrecision" >3 Jun 08:00</text>
<rect x="570" y="925" width="1" height="3" fill="#000"/>
<text x="568.9" y="937" font-size="9.9" fill="#000" stroke="#000" stroke-width="0.13" textLength="47.4" lengthAdjust="spacingAndGlyphs" text-rendering="geometricPrecision" >6 Jun 16:00</text>
<rect x="634" y="925" width="1" height="3" fill="#000"/>
<text x="632.9" y="937" font-size="9.9" fill="#000" stroke="#000" stroke-width="0.13" textLength="47.4" lengthAdjust="spacingAndGlyphs" text-rendering="geometricPrecision" >8 Jun 00:00</text>
<rect x="698" y="925" width="1" height="3" fill="#000"/>
<text x="696.9" y="937" font-size="9.9" fill="#000" stroke="#000" stroke-width="0.13" textLength="47.4" lengthAdjust="spacingAndGlyphs" text-rendering="geometricPrecision" >9 Jun 08:00</text>
<rect x="762" y="925" width="1" height="3" fill="#000"/>
<text x="760.9" y="937" font-size="9.9" fill="#000" stroke="#000" stroke-width="0.13" textLength="52.8" lengthAdjust="spacingAndGlyphs" text-rendering="geometricPrecision" >10 Jun 16:00</text>
<rect x="826" y="925" width="1" height="3" fill="#000"/>
<text x="824.9" y="937" font-size="9.9" fill="#000" stroke="#000" stroke-width="0.13" textLength="52.8" lengthAdjust="spacingAndGlyphs" text-rendering="geometricPrecision" >14 Jun 00:00</text>
<rect x="890" y="925" width="1" height="3" fill="#000"/>
<text x="888.9" y="937" font-size="9.9" fill="#000" stroke="#000" stroke-width="0.13" textLength="52.8" lengthAdjust="spacingAndGlyphs" text-rendering="geometricPrecision" >15 Jun 08:00</text>
<rect x="954" y="925" width="1" height="3" fill="#000"/>
<text x="952.9" y="937" font-size="9.9" fill="#000" stroke="#000" stroke-width="0.13" textLength="52.8" lengthAdjust="spacingAndGlyphs" text-rendering="geometricPrecision" >16 Jun 16:00</text>
<rect x="1018" y="925" width="1" height="3" fill="#000"/>
<text x="1016.9" y="937" font-size="9.9" fill="#000" stroke="#000" stroke-width="0.13" textLength="52.8" lengthAdjust="spacingAndGlyphs" text-rendering="geometricPrecision" >20 Jun 00:00</text>
<rect x="1082" y="925" width="1" height="3" fill="#000"/>
<text x="1080.9" y="937" font-size="9.9" fill="#000" stroke="#000" stroke-width="0.13" textLength="52.8" lengthAdjust="spacingAndGlyphs" text-rendering="geometricPrecision" >21 Jun 08:00</text>
<rect x="1146" y="925" width="1" height="3" fill="#000"/>
<text x="1144.9" y="937" font-size="9.9" fill="#000" stroke="#000" stroke-width="0.13" textLength="52.8" lengthAdjust="spacingAndGlyphs" text-rendering="geometricPrecision" >22 Jun 16:00</text>
<rect x="1210" y="925" width="1" height="3" fill="#000"/>
<text x="1208.9" y="937" font-size="9.9" fill="#000" stroke="#000" stroke-width="0.13" textLength="52.8" lengthAdjust="spacingAndGlyphs" text-rendering="geometricPrecision" >24 Jun 00:00</text>
<rect x="1274" y="925" width="1" height="3" fill="#000"/>
<text x="1272.9" y="937" font-size="9.9" fill="#000" stroke="#000" stroke-width="0.13" textLength="52.8" lengthAdjust="spacingAndGlyphs" text-rendering="geometricPrecision" >27 Jun 08:00</text>
<rect x="0" y="627" width="1699" height="1" fill="#fff"/>
<rect x="0" y="785" width="1699" height="1" fill="#fff"/>
</svg>
</body></html>
